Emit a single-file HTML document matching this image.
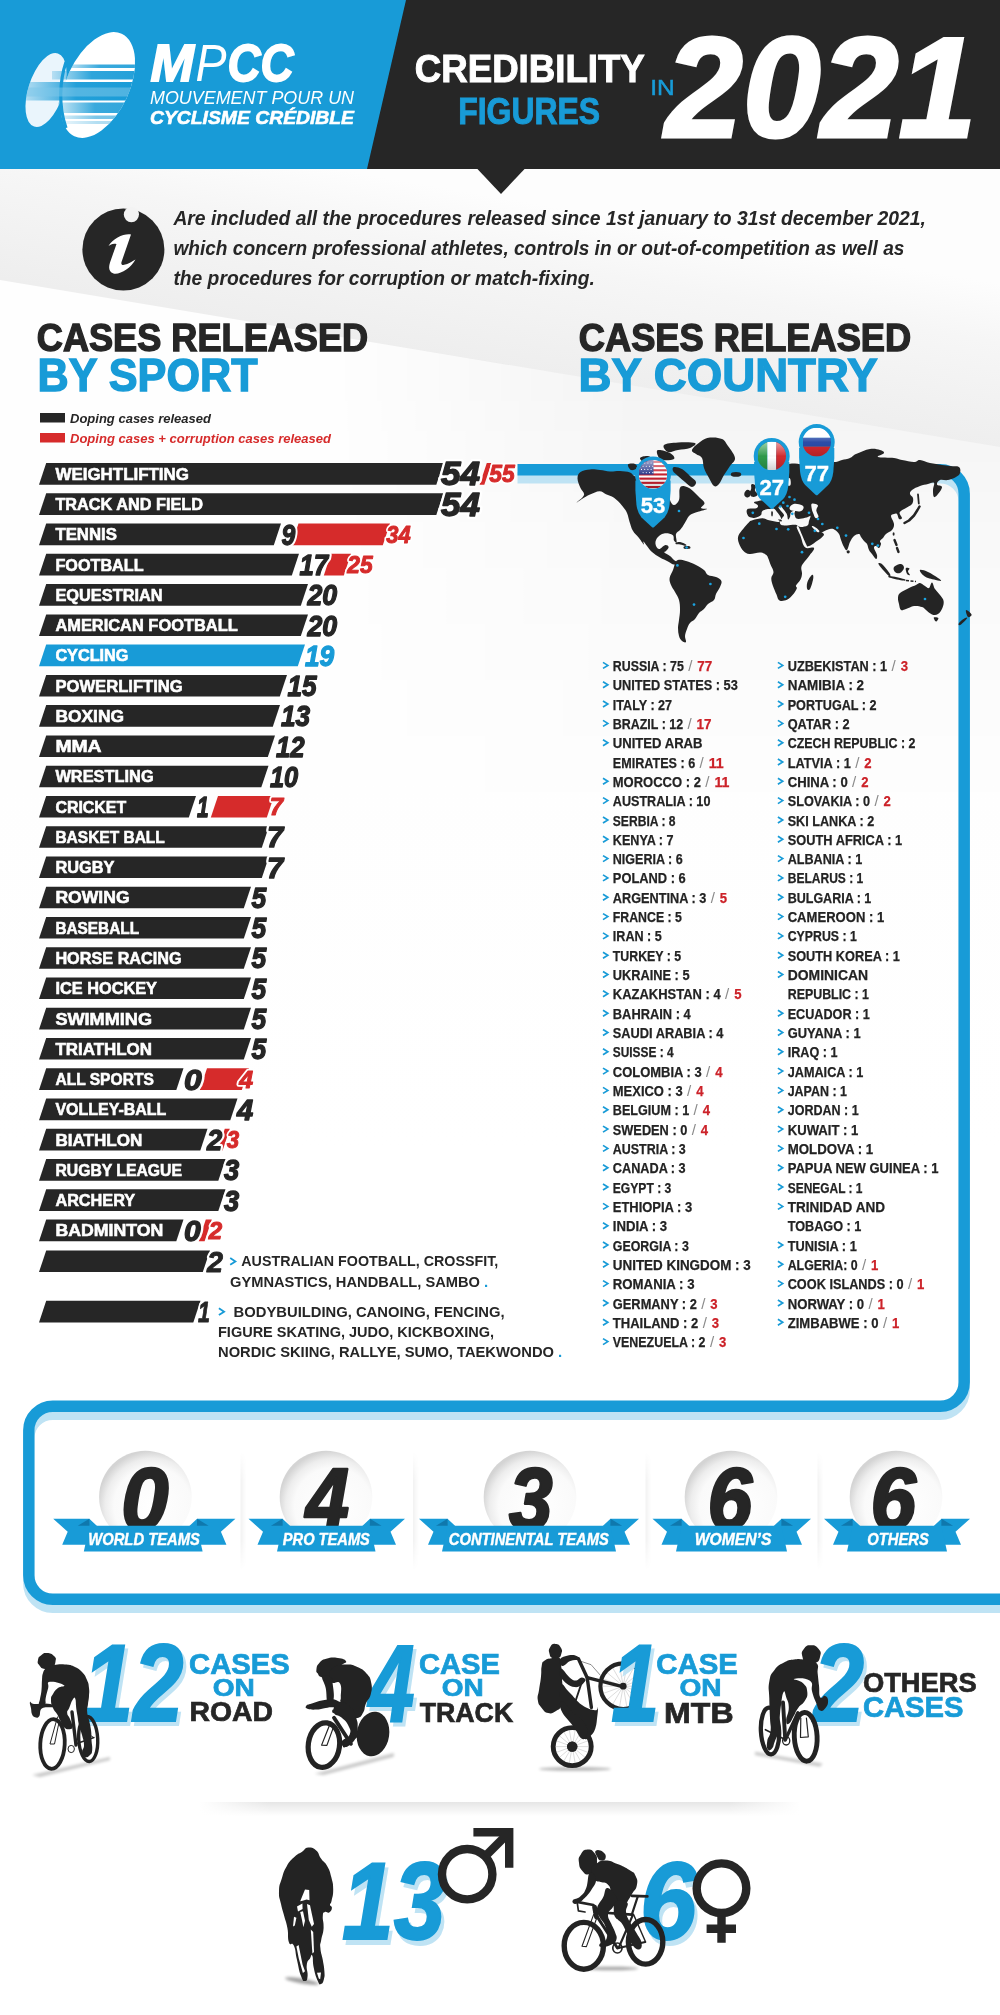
<!DOCTYPE html>
<html lang="en"><head><meta charset="utf-8"><title>MPCC - Credibility figures in 2021</title>
<style>
html,body{margin:0;padding:0;background:#fff;}
body{width:1000px;height:2015px;overflow:hidden;font-family:"Liberation Sans",sans-serif;}
svg{display:block;font-family:"Liberation Sans",sans-serif;will-change:transform;}
svg text{white-space:pre;}
</style></head><body>
<svg width="1000" height="2015" viewBox="0 0 1000 2015">
<defs>
<linearGradient id="bgg" x1="0" y1="0" x2="0" y2="1">
<stop offset="0" stop-color="#fefefe"/><stop offset="0.5" stop-color="#fefefe"/><stop offset="0.8" stop-color="#ffffff"/><stop offset="1" stop-color="#ffffff"/>
</linearGradient>
<linearGradient id="bgtop" gradientUnits="userSpaceOnUse" x1="330" y1="168" x2="290" y2="400"><stop offset="0" stop-color="#fdfdfd"/><stop offset="0.25" stop-color="#f6f6f6"/><stop offset="0.7" stop-color="#eeeeee"/><stop offset="1" stop-color="#ebebeb"/></linearGradient>
<linearGradient id="bgB" gradientUnits="userSpaceOnUse" x1="0" y1="380" x2="0" y2="820"><stop offset="0" stop-color="#000" stop-opacity="0.04"/><stop offset="0.35" stop-color="#000" stop-opacity="0.02"/><stop offset="1" stop-color="#000" stop-opacity="0"/></linearGradient>
<linearGradient id="mBg" gradientUnits="userSpaceOnUse" x1="330" y1="0" x2="640" y2="0"><stop offset="0" stop-color="#000"/><stop offset="1" stop-color="#fff"/></linearGradient>
<mask id="mB" maskUnits="userSpaceOnUse" x="300" y="300" width="700" height="620"><rect x="300" y="300" width="700" height="620" fill="url(#mBg)"/></mask>
<radialGradient id="ball" cx="0.58" cy="0.6" r="0.6">
<stop offset="0" stop-color="#ffffff"/><stop offset="0.7" stop-color="#fafafa"/><stop offset="0.86" stop-color="#ededed"/><stop offset="1" stop-color="#d4d4d4"/>
</radialGradient>
<linearGradient id="sepv" x1="0" y1="0" x2="1" y2="0">
<stop offset="0" stop-color="#000" stop-opacity="0.05"/><stop offset="1" stop-color="#000" stop-opacity="0"/>
</linearGradient>
<linearGradient id="seph" x1="0" y1="0" x2="0" y2="1">
<stop offset="0" stop-color="#000" stop-opacity="0.10"/><stop offset="1" stop-color="#000" stop-opacity="0"/>
</linearGradient>
<linearGradient id="fadex" x1="0" y1="0" x2="1" y2="0">
<stop offset="0" stop-color="#fff" stop-opacity="1"/><stop offset="0.12" stop-color="#fff" stop-opacity="0"/><stop offset="0.88" stop-color="#fff" stop-opacity="0"/><stop offset="1" stop-color="#fff" stop-opacity="1"/>
</linearGradient>
<linearGradient id="stripe" x1="0" y1="0" x2="1" y2="0">
<stop offset="0" stop-color="#189bd7" stop-opacity="0.25"/><stop offset="0.45" stop-color="#189bd7" stop-opacity="0.95"/><stop offset="1" stop-color="#189bd7" stop-opacity="1"/>
</linearGradient>
<clipPath id="logoclip"><ellipse cx="46" cy="90" rx="17.6" ry="38.5" transform="rotate(18 46 90)"/><ellipse cx="98" cy="85" rx="31.5" ry="56.4" transform="rotate(24.8 98 85)"/></clipPath>
</defs>
<rect x="0" y="0" width="1000" height="2015" fill="#ffffff"/>
<rect x="0" y="168" width="1000" height="1230" fill="url(#bgg)"/>
<polygon points="0,168 1000,168 1000,447 0,280" fill="url(#bgtop)"/>
<polygon points="330,335 1000,447 1000,900 330,900" fill="url(#bgB)" mask="url(#mB)"/>
<rect x="0" y="0" width="1000" height="169" fill="#262626"/>
<polygon points="0,0 406,0 367,169 0,169" fill="#189bd7"/>
<polygon points="476.5,168 525.5,168 501,194" fill="#262626"/>
<g>
<ellipse cx="46" cy="90" rx="17.6" ry="38.5" transform="rotate(18 46 90)" fill="#eaf5fc"/>
<ellipse cx="98" cy="85" rx="31.5" ry="56.4" transform="rotate(24.8 98 85)" fill="#ffffff"/>
<path d="M66,62 C60,80 58,105 66,128" fill="none" stroke="#189bd7" stroke-width="3.2"/>
<g clip-path="url(#logoclip)">
<rect x="66" y="64.5" width="74" height="3.5" fill="url(#stripe)" opacity="0.9"/>
<rect x="52" y="71" width="88" height="8.5" fill="url(#stripe)" opacity="0.95"/>
<rect x="24" y="82" width="116" height="18.5" fill="url(#stripe)" opacity="1"/>
<rect x="58" y="102.5" width="82" height="10.5" fill="url(#stripe)" opacity="0.9"/>
<rect x="60" y="115.5" width="80" height="3.5" fill="url(#stripe)" opacity="0.6"/>
<rect x="62" y="121" width="78" height="3.0" fill="url(#stripe)" opacity="0.35"/>
<rect x="24" y="87.5" width="110" height="9" fill="#7cc6ea" opacity="0.55"/>
</g>
</g>
<text x="150.6" y="80.6" font-size="52" fill="#fff" font-weight="bold" font-style="italic" textLength="43.5" lengthAdjust="spacingAndGlyphs" stroke="#fff" stroke-width="1.8">M</text>
<text x="195.5" y="80.6" font-size="52" fill="#fff" font-style="italic" textLength="31.0" lengthAdjust="spacingAndGlyphs">P</text>
<text x="227.5" y="80.6" font-size="52" fill="#fff" font-weight="bold" font-style="italic" textLength="66.0" lengthAdjust="spacingAndGlyphs" stroke="#fff" stroke-width="1.8">CC</text>
<text x="150.0" y="103.5" font-size="18.5" fill="#fff" font-style="italic" textLength="204.0" lengthAdjust="spacingAndGlyphs">MOUVEMENT POUR UN</text>
<text x="150.0" y="124.0" font-size="18.5" fill="#fff" font-weight="bold" font-style="italic" textLength="204.0" lengthAdjust="spacingAndGlyphs" stroke="#fff" stroke-width="0.6">CYCLISME CRÉDIBLE</text>
<text x="414.8" y="81.8" font-size="39.3" fill="#fff" font-weight="bold" textLength="230.0" lengthAdjust="spacingAndGlyphs" stroke="#fff" stroke-width="1">CREDIBILITY</text>
<text x="458.2" y="124.2" font-size="37.8" fill="#189bd7" font-weight="bold" textLength="142.0" lengthAdjust="spacingAndGlyphs" stroke="#189bd7" stroke-width="1">FIGURES</text>
<text x="650.3" y="95.2" font-size="22.5" fill="#189bd7" textLength="24.5" lengthAdjust="spacingAndGlyphs" stroke="#189bd7" stroke-width="0.5">IN</text>
<text x="665.0" y="137.0" font-size="143" fill="#fff" font-weight="bold" font-style="italic" textLength="311.5" lengthAdjust="spacingAndGlyphs" stroke="#fff" stroke-width="3">2021</text>
<circle cx="123.4" cy="249.5" r="41" fill="#262626"/>
<circle cx="131.4" cy="214.6" r="7.6" fill="#f3f3f3"/>
<path d="M108.5,246 C113,238 125,233 131,234.5 L121.5,262 C120.5,266 124,266.5 135.5,259.5 C131,268 120,275 113.5,273.5 C108.5,272 108.5,267 110,262.5 L116.5,244 C113,243 110.5,244.5 108.5,246 Z" fill="#ffffff"/>
<text x="173.4" y="224.5" font-size="19.6" fill="#262626" font-weight="bold" font-style="italic" textLength="752.5" lengthAdjust="spacingAndGlyphs">Are included all the procedures released since 1st january to 31st december 2021,</text>
<text x="173.4" y="254.8" font-size="19.6" fill="#262626" font-weight="bold" font-style="italic" textLength="731.0" lengthAdjust="spacingAndGlyphs">which concern professional athletes, controls in or out-of-competition as well as</text>
<text x="173.4" y="285.2" font-size="19.6" fill="#262626" font-weight="bold" font-style="italic" textLength="421.5" lengthAdjust="spacingAndGlyphs">the procedures for corruption or match-fixing.</text>
<text x="36.8" y="351.0" font-size="38.8" fill="#262626" font-weight="bold" textLength="331.4" lengthAdjust="spacingAndGlyphs" stroke="#262626" stroke-width="1.4">CASES RELEASED</text>
<text x="37.6" y="391.2" font-size="46" fill="#189bd7" font-weight="bold" textLength="220.0" lengthAdjust="spacingAndGlyphs" stroke="#189bd7" stroke-width="1.4">BY SPORT</text>
<text x="578.8" y="351.0" font-size="38.8" fill="#262626" font-weight="bold" textLength="332.4" lengthAdjust="spacingAndGlyphs" stroke="#262626" stroke-width="1.4">CASES RELEASED</text>
<text x="578.6" y="391.2" font-size="46" fill="#189bd7" font-weight="bold" textLength="299.0" lengthAdjust="spacingAndGlyphs" stroke="#189bd7" stroke-width="1.4">BY COUNTRY</text>
<rect x="40" y="413" width="25" height="9.5" fill="#262626"/>
<rect x="40" y="433" width="25" height="9.5" fill="#d62b2b"/>
<text x="70.0" y="422.6" font-size="13.4" fill="#262626" font-weight="bold" font-style="italic" textLength="141.0" lengthAdjust="spacingAndGlyphs">Doping cases released</text>
<text x="70.0" y="442.6" font-size="13.4" fill="#d62b2b" font-weight="bold" font-style="italic" textLength="261.0" lengthAdjust="spacingAndGlyphs">Doping cases + corruption cases released</text>
<polygon points="46.2,463.1 443.5,463.1 436.3,484.7 39.0,484.7" fill="#262626"/>
<polygon points="486.8,463.1 491.5,463.1 484.3,484.7 479.6,484.7" fill="#d62b2b"/>
<text x="55.4" y="479.8" font-size="17.2" fill="#fff" font-weight="bold" textLength="133.6" lengthAdjust="spacingAndGlyphs" stroke="#fff" stroke-width="0.6">WEIGHTLIFTING</text>
<use href="#n1" fill="#ffffff" stroke="#ffffff" stroke-width="6.0"/>
<g fill="#262626" stroke="#262626" stroke-width="1.4"><text id="n1" x="441.0" y="485.2" font-size="33.6" font-weight="bold" font-style="italic" stroke-linejoin="round" textLength="39.0" lengthAdjust="spacingAndGlyphs">54</text></g>
<use href="#n2" fill="#ffffff" stroke="#ffffff" stroke-width="4.4"/>
<g fill="#d62b2b" stroke="#d62b2b" stroke-width="1.0"><text id="n2" x="489.3" y="482.4" font-size="23.6" font-weight="bold" font-style="italic" stroke-linejoin="round" textLength="25.4" lengthAdjust="spacingAndGlyphs">55</text></g>
<polygon points="46.2,493.3 443.5,493.3 436.3,514.9 39.0,514.9" fill="#262626"/>
<text x="55.4" y="510.0" font-size="17.2" fill="#fff" font-weight="bold" textLength="147.6" lengthAdjust="spacingAndGlyphs" stroke="#fff" stroke-width="0.6">TRACK AND FIELD</text>
<use href="#n3" fill="#ffffff" stroke="#ffffff" stroke-width="6.0"/>
<g fill="#262626" stroke="#262626" stroke-width="1.4"><text id="n3" x="441.0" y="515.5" font-size="33.6" font-weight="bold" font-style="italic" stroke-linejoin="round" textLength="39.0" lengthAdjust="spacingAndGlyphs">54</text></g>
<polygon points="46.2,523.6 281.0,523.6 273.8,545.2 39.0,545.2" fill="#262626"/>
<polygon points="298.5,523.6 390.0,523.6 382.8,545.2 291.3,545.2" fill="#d62b2b"/>
<text x="55.4" y="540.3" font-size="17.2" fill="#fff" font-weight="bold" textLength="61.6" lengthAdjust="spacingAndGlyphs" stroke="#fff" stroke-width="0.6">TENNIS</text>
<use href="#n4" fill="#ffffff" stroke="#ffffff" stroke-width="5.7"/>
<g fill="#262626" stroke="#262626" stroke-width="1.3"><text id="n4" x="281.4" y="544.8" font-size="28.8" font-weight="bold" font-style="italic" stroke-linejoin="round" textLength="13.7" lengthAdjust="spacingAndGlyphs">9</text></g>
<use href="#n5" fill="#ffffff" stroke="#ffffff" stroke-width="4.4"/>
<g fill="#d62b2b" stroke="#d62b2b" stroke-width="1.0"><text id="n5" x="386.3" y="542.9" font-size="23.6" font-weight="bold" font-style="italic" stroke-linejoin="round" textLength="24.4" lengthAdjust="spacingAndGlyphs">34</text></g>
<polygon points="46.2,553.8 299.0,553.8 291.8,575.4 39.0,575.4" fill="#262626"/>
<polygon points="331.0,553.8 351.0,553.8 343.8,575.4 323.8,575.4" fill="#d62b2b"/>
<text x="55.4" y="570.5" font-size="17.2" fill="#fff" font-weight="bold" textLength="88.2" lengthAdjust="spacingAndGlyphs" stroke="#fff" stroke-width="0.6">FOOTBALL</text>
<use href="#n6" fill="#ffffff" stroke="#ffffff" stroke-width="5.7"/>
<g fill="#262626" stroke="#262626" stroke-width="1.3"><text id="n6" x="299.4" y="575.0" font-size="28.8" font-weight="bold" font-style="italic" stroke-linejoin="round" textLength="28.7" lengthAdjust="spacingAndGlyphs">17</text></g>
<use href="#n7" fill="#ffffff" stroke="#ffffff" stroke-width="4.4"/>
<g fill="#d62b2b" stroke="#d62b2b" stroke-width="1.0"><text id="n7" x="347.3" y="573.1" font-size="23.6" font-weight="bold" font-style="italic" stroke-linejoin="round" textLength="25.4" lengthAdjust="spacingAndGlyphs">25</text></g>
<polygon points="46.2,584.1 308.0,584.1 300.8,605.7 39.0,605.7" fill="#262626"/>
<text x="55.4" y="600.8" font-size="17.2" fill="#fff" font-weight="bold" textLength="107.3" lengthAdjust="spacingAndGlyphs" stroke="#fff" stroke-width="0.6">EQUESTRIAN</text>
<use href="#n8" fill="#ffffff" stroke="#ffffff" stroke-width="5.7"/>
<g fill="#262626" stroke="#262626" stroke-width="1.3"><text id="n8" x="307.4" y="605.3" font-size="28.8" font-weight="bold" font-style="italic" stroke-linejoin="round" textLength="29.7" lengthAdjust="spacingAndGlyphs">20</text></g>
<polygon points="46.2,614.4 308.0,614.4 300.8,636.0 39.0,636.0" fill="#262626"/>
<text x="55.4" y="631.1" font-size="17.2" fill="#fff" font-weight="bold" textLength="182.3" lengthAdjust="spacingAndGlyphs" stroke="#fff" stroke-width="0.6">AMERICAN FOOTBALL</text>
<use href="#n9" fill="#ffffff" stroke="#ffffff" stroke-width="5.7"/>
<g fill="#262626" stroke="#262626" stroke-width="1.3"><text id="n9" x="307.4" y="635.6" font-size="28.8" font-weight="bold" font-style="italic" stroke-linejoin="round" textLength="29.7" lengthAdjust="spacingAndGlyphs">20</text></g>
<polygon points="46.2,644.6 305.0,644.6 297.8,666.2 39.0,666.2" fill="#189bd7"/>
<text x="55.4" y="661.3" font-size="17.2" fill="#fff" font-weight="bold" textLength="73.1" lengthAdjust="spacingAndGlyphs" stroke="#fff" stroke-width="0.6">CYCLING</text>
<use href="#n10" fill="#ffffff" stroke="#ffffff" stroke-width="5.7"/>
<g fill="#189bd7" stroke="#189bd7" stroke-width="1.3"><text id="n10" x="304.9" y="665.8" font-size="28.8" font-weight="bold" font-style="italic" stroke-linejoin="round" textLength="29.2" lengthAdjust="spacingAndGlyphs">19</text></g>
<polygon points="46.2,674.9 287.0,674.9 279.8,696.5 39.0,696.5" fill="#262626"/>
<text x="55.4" y="691.6" font-size="17.2" fill="#fff" font-weight="bold" textLength="127.4" lengthAdjust="spacingAndGlyphs" stroke="#fff" stroke-width="0.6">POWERLIFTING</text>
<use href="#n11" fill="#ffffff" stroke="#ffffff" stroke-width="5.7"/>
<g fill="#262626" stroke="#262626" stroke-width="1.3"><text id="n11" x="287.4" y="696.1" font-size="28.8" font-weight="bold" font-style="italic" stroke-linejoin="round" textLength="29.2" lengthAdjust="spacingAndGlyphs">15</text></g>
<polygon points="46.2,705.1 280.0,705.1 272.8,726.7 39.0,726.7" fill="#262626"/>
<text x="55.4" y="721.8" font-size="17.2" fill="#fff" font-weight="bold" textLength="68.6" lengthAdjust="spacingAndGlyphs" stroke="#fff" stroke-width="0.6">BOXING</text>
<use href="#n12" fill="#ffffff" stroke="#ffffff" stroke-width="5.7"/>
<g fill="#262626" stroke="#262626" stroke-width="1.3"><text id="n12" x="280.9" y="726.3" font-size="28.8" font-weight="bold" font-style="italic" stroke-linejoin="round" textLength="29.2" lengthAdjust="spacingAndGlyphs">13</text></g>
<polygon points="46.2,735.4 275.0,735.4 267.8,757.0 39.0,757.0" fill="#262626"/>
<text x="55.4" y="752.1" font-size="17.2" fill="#fff" font-weight="bold" textLength="46.2" lengthAdjust="spacingAndGlyphs" stroke="#fff" stroke-width="0.6">MMA</text>
<use href="#n13" fill="#ffffff" stroke="#ffffff" stroke-width="5.7"/>
<g fill="#262626" stroke="#262626" stroke-width="1.3"><text id="n13" x="275.9" y="756.6" font-size="28.8" font-weight="bold" font-style="italic" stroke-linejoin="round" textLength="28.7" lengthAdjust="spacingAndGlyphs">12</text></g>
<polygon points="46.2,765.7 268.5,765.7 261.3,787.3 39.0,787.3" fill="#262626"/>
<text x="55.4" y="782.4" font-size="17.2" fill="#fff" font-weight="bold" textLength="98.3" lengthAdjust="spacingAndGlyphs" stroke="#fff" stroke-width="0.6">WRESTLING</text>
<use href="#n14" fill="#ffffff" stroke="#ffffff" stroke-width="5.7"/>
<g fill="#262626" stroke="#262626" stroke-width="1.3"><text id="n14" x="269.9" y="786.9" font-size="28.8" font-weight="bold" font-style="italic" stroke-linejoin="round" textLength="28.2" lengthAdjust="spacingAndGlyphs">10</text></g>
<polygon points="46.2,795.9 196.0,795.9 188.8,817.5 39.0,817.5" fill="#262626"/>
<polygon points="218.0,795.9 274.0,795.9 266.8,817.5 210.8,817.5" fill="#d62b2b"/>
<text x="55.4" y="812.6" font-size="17.2" fill="#fff" font-weight="bold" textLength="70.8" lengthAdjust="spacingAndGlyphs" stroke="#fff" stroke-width="0.6">CRICKET</text>
<use href="#n15" fill="#ffffff" stroke="#ffffff" stroke-width="5.7"/>
<g fill="#262626" stroke="#262626" stroke-width="1.3"><text id="n15" x="196.9" y="817.1" font-size="28.8" font-weight="bold" font-style="italic" stroke-linejoin="round" textLength="11.7" lengthAdjust="spacingAndGlyphs">1</text></g>
<use href="#n16" fill="#ffffff" stroke="#ffffff" stroke-width="4.4"/>
<g fill="#d62b2b" stroke="#d62b2b" stroke-width="1.0"><text id="n16" x="269.8" y="815.2" font-size="23.6" font-weight="bold" font-style="italic" stroke-linejoin="round" textLength="13.4" lengthAdjust="spacingAndGlyphs">7</text></g>
<polygon points="46.2,826.2 269.0,826.2 261.8,847.8 39.0,847.8" fill="#262626"/>
<text x="55.4" y="842.9" font-size="17.2" fill="#fff" font-weight="bold" textLength="109.4" lengthAdjust="spacingAndGlyphs" stroke="#fff" stroke-width="0.6">BASKET BALL</text>
<use href="#n17" fill="#ffffff" stroke="#ffffff" stroke-width="5.7"/>
<g fill="#262626" stroke="#262626" stroke-width="1.3"><text id="n17" x="266.9" y="847.4" font-size="28.8" font-weight="bold" font-style="italic" stroke-linejoin="round" textLength="16.2" lengthAdjust="spacingAndGlyphs">7</text></g>
<polygon points="46.2,856.5 269.0,856.5 261.8,878.1 39.0,878.1" fill="#262626"/>
<text x="55.4" y="873.2" font-size="17.2" fill="#fff" font-weight="bold" textLength="59.1" lengthAdjust="spacingAndGlyphs" stroke="#fff" stroke-width="0.6">RUGBY</text>
<use href="#n18" fill="#ffffff" stroke="#ffffff" stroke-width="5.7"/>
<g fill="#262626" stroke="#262626" stroke-width="1.3"><text id="n18" x="266.9" y="877.7" font-size="28.8" font-weight="bold" font-style="italic" stroke-linejoin="round" textLength="16.2" lengthAdjust="spacingAndGlyphs">7</text></g>
<polygon points="46.2,886.7 251.0,886.7 243.8,908.3 39.0,908.3" fill="#262626"/>
<text x="55.4" y="903.4" font-size="17.2" fill="#fff" font-weight="bold" textLength="74.2" lengthAdjust="spacingAndGlyphs" stroke="#fff" stroke-width="0.6">ROWING</text>
<use href="#n19" fill="#ffffff" stroke="#ffffff" stroke-width="5.7"/>
<g fill="#262626" stroke="#262626" stroke-width="1.3"><text id="n19" x="251.4" y="907.9" font-size="28.8" font-weight="bold" font-style="italic" stroke-linejoin="round" textLength="14.7" lengthAdjust="spacingAndGlyphs">5</text></g>
<polygon points="46.2,917.0 251.0,917.0 243.8,938.6 39.0,938.6" fill="#262626"/>
<text x="55.4" y="933.7" font-size="17.2" fill="#fff" font-weight="bold" textLength="83.7" lengthAdjust="spacingAndGlyphs" stroke="#fff" stroke-width="0.6">BASEBALL</text>
<use href="#n20" fill="#ffffff" stroke="#ffffff" stroke-width="5.7"/>
<g fill="#262626" stroke="#262626" stroke-width="1.3"><text id="n20" x="251.4" y="938.2" font-size="28.8" font-weight="bold" font-style="italic" stroke-linejoin="round" textLength="14.7" lengthAdjust="spacingAndGlyphs">5</text></g>
<polygon points="46.2,947.2 251.0,947.2 243.8,968.8 39.0,968.8" fill="#262626"/>
<text x="55.4" y="963.9" font-size="17.2" fill="#fff" font-weight="bold" textLength="126.3" lengthAdjust="spacingAndGlyphs" stroke="#fff" stroke-width="0.6">HORSE RACING</text>
<use href="#n21" fill="#ffffff" stroke="#ffffff" stroke-width="5.7"/>
<g fill="#262626" stroke="#262626" stroke-width="1.3"><text id="n21" x="251.4" y="968.4" font-size="28.8" font-weight="bold" font-style="italic" stroke-linejoin="round" textLength="14.7" lengthAdjust="spacingAndGlyphs">5</text></g>
<polygon points="46.2,977.5 251.0,977.5 243.8,999.1 39.0,999.1" fill="#262626"/>
<text x="55.4" y="994.2" font-size="17.2" fill="#fff" font-weight="bold" textLength="101.6" lengthAdjust="spacingAndGlyphs" stroke="#fff" stroke-width="0.6">ICE HOCKEY</text>
<use href="#n22" fill="#ffffff" stroke="#ffffff" stroke-width="5.7"/>
<g fill="#262626" stroke="#262626" stroke-width="1.3"><text id="n22" x="251.4" y="998.7" font-size="28.8" font-weight="bold" font-style="italic" stroke-linejoin="round" textLength="14.7" lengthAdjust="spacingAndGlyphs">5</text></g>
<polygon points="46.2,1007.8 251.0,1007.8 243.8,1029.4 39.0,1029.4" fill="#262626"/>
<text x="55.4" y="1024.5" font-size="17.2" fill="#fff" font-weight="bold" textLength="96.6" lengthAdjust="spacingAndGlyphs" stroke="#fff" stroke-width="0.6">SWIMMING</text>
<use href="#n23" fill="#ffffff" stroke="#ffffff" stroke-width="5.7"/>
<g fill="#262626" stroke="#262626" stroke-width="1.3"><text id="n23" x="251.4" y="1029.0" font-size="28.8" font-weight="bold" font-style="italic" stroke-linejoin="round" textLength="14.7" lengthAdjust="spacingAndGlyphs">5</text></g>
<polygon points="46.2,1038.0 251.0,1038.0 243.8,1059.6 39.0,1059.6" fill="#262626"/>
<text x="55.4" y="1054.7" font-size="17.2" fill="#fff" font-weight="bold" textLength="96.6" lengthAdjust="spacingAndGlyphs" stroke="#fff" stroke-width="0.6">TRIATHLON</text>
<use href="#n24" fill="#ffffff" stroke="#ffffff" stroke-width="5.7"/>
<g fill="#262626" stroke="#262626" stroke-width="1.3"><text id="n24" x="251.4" y="1059.2" font-size="28.8" font-weight="bold" font-style="italic" stroke-linejoin="round" textLength="14.7" lengthAdjust="spacingAndGlyphs">5</text></g>
<polygon points="46.2,1068.3 183.5,1068.3 176.3,1089.9 39.0,1089.9" fill="#262626"/>
<polygon points="207.0,1068.3 249.0,1068.3 241.8,1089.9 199.8,1089.9" fill="#d62b2b"/>
<text x="55.4" y="1085.0" font-size="17.2" fill="#fff" font-weight="bold" textLength="98.4" lengthAdjust="spacingAndGlyphs" stroke="#fff" stroke-width="0.6">ALL SPORTS</text>
<use href="#n25" fill="#ffffff" stroke="#ffffff" stroke-width="5.7"/>
<g fill="#262626" stroke="#262626" stroke-width="1.3"><text id="n25" x="183.9" y="1089.5" font-size="28.8" font-weight="bold" font-style="italic" stroke-linejoin="round" textLength="17.7" lengthAdjust="spacingAndGlyphs">0</text></g>
<use href="#n26" fill="#ffffff" stroke="#ffffff" stroke-width="4.4"/>
<g fill="#d62b2b" stroke="#d62b2b" stroke-width="1.0"><text id="n26" x="239.3" y="1087.6" font-size="23.6" font-weight="bold" font-style="italic" stroke-linejoin="round" textLength="13.9" lengthAdjust="spacingAndGlyphs">4</text></g>
<polygon points="46.2,1098.6 237.5,1098.6 230.3,1120.2 39.0,1120.2" fill="#262626"/>
<text x="55.4" y="1115.3" font-size="17.2" fill="#fff" font-weight="bold" textLength="111.0" lengthAdjust="spacingAndGlyphs" stroke="#fff" stroke-width="0.6">VOLLEY-BALL</text>
<use href="#n27" fill="#ffffff" stroke="#ffffff" stroke-width="5.7"/>
<g fill="#262626" stroke="#262626" stroke-width="1.3"><text id="n27" x="236.9" y="1119.8" font-size="28.8" font-weight="bold" font-style="italic" stroke-linejoin="round" textLength="16.2" lengthAdjust="spacingAndGlyphs">4</text></g>
<polygon points="46.2,1128.8 207.5,1128.8 200.3,1150.4 39.0,1150.4" fill="#262626"/>
<polygon points="224.8,1128.8 229.8,1128.8 222.6,1150.4 217.6,1150.4" fill="#d62b2b"/>
<text x="55.4" y="1145.5" font-size="17.2" fill="#fff" font-weight="bold" textLength="87.0" lengthAdjust="spacingAndGlyphs" stroke="#fff" stroke-width="0.6">BIATHLON</text>
<use href="#n28" fill="#ffffff" stroke="#ffffff" stroke-width="5.7"/>
<g fill="#262626" stroke="#262626" stroke-width="1.3"><text id="n28" x="206.9" y="1150.0" font-size="28.8" font-weight="bold" font-style="italic" stroke-linejoin="round" textLength="15.2" lengthAdjust="spacingAndGlyphs">2</text></g>
<use href="#n29" fill="#ffffff" stroke="#ffffff" stroke-width="4.4"/>
<g fill="#d62b2b" stroke="#d62b2b" stroke-width="1.0"><text id="n29" x="226.8" y="1148.1" font-size="23.6" font-weight="bold" font-style="italic" stroke-linejoin="round" textLength="12.4" lengthAdjust="spacingAndGlyphs">3</text></g>
<polygon points="46.2,1159.1 225.5,1159.1 218.3,1180.7 39.0,1180.7" fill="#262626"/>
<text x="55.4" y="1175.8" font-size="17.2" fill="#fff" font-weight="bold" textLength="126.6" lengthAdjust="spacingAndGlyphs" stroke="#fff" stroke-width="0.6">RUGBY LEAGUE</text>
<use href="#n30" fill="#ffffff" stroke="#ffffff" stroke-width="5.7"/>
<g fill="#262626" stroke="#262626" stroke-width="1.3"><text id="n30" x="223.9" y="1180.3" font-size="28.8" font-weight="bold" font-style="italic" stroke-linejoin="round" textLength="15.2" lengthAdjust="spacingAndGlyphs">3</text></g>
<polygon points="46.2,1189.3 225.5,1189.3 218.3,1210.9 39.0,1210.9" fill="#262626"/>
<text x="55.4" y="1206.0" font-size="17.2" fill="#fff" font-weight="bold" textLength="79.8" lengthAdjust="spacingAndGlyphs" stroke="#fff" stroke-width="0.6">ARCHERY</text>
<use href="#n31" fill="#ffffff" stroke="#ffffff" stroke-width="5.7"/>
<g fill="#262626" stroke="#262626" stroke-width="1.3"><text id="n31" x="223.9" y="1210.5" font-size="28.8" font-weight="bold" font-style="italic" stroke-linejoin="round" textLength="15.2" lengthAdjust="spacingAndGlyphs">3</text></g>
<polygon points="46.2,1219.6 183.5,1219.6 176.3,1241.2 39.0,1241.2" fill="#262626"/>
<polygon points="205.8,1219.6 211.8,1219.6 204.6,1241.2 198.6,1241.2" fill="#d62b2b"/>
<text x="55.4" y="1236.3" font-size="17.2" fill="#fff" font-weight="bold" textLength="108.0" lengthAdjust="spacingAndGlyphs" stroke="#fff" stroke-width="0.6">BADMINTON</text>
<use href="#n32" fill="#ffffff" stroke="#ffffff" stroke-width="5.7"/>
<g fill="#262626" stroke="#262626" stroke-width="1.3"><text id="n32" x="183.9" y="1240.8" font-size="28.8" font-weight="bold" font-style="italic" stroke-linejoin="round" textLength="16.7" lengthAdjust="spacingAndGlyphs">0</text></g>
<use href="#n33" fill="#ffffff" stroke="#ffffff" stroke-width="4.4"/>
<g fill="#d62b2b" stroke="#d62b2b" stroke-width="1.0"><text id="n33" x="208.8" y="1238.9" font-size="23.6" font-weight="bold" font-style="italic" stroke-linejoin="round" textLength="13.4" lengthAdjust="spacingAndGlyphs">2</text></g>
<polygon points="46.2,1250.4 210.0,1250.4 202.8,1272.0 39.0,1272.0" fill="#262626"/>
<use href="#n34" fill="#ffffff" stroke="#ffffff" stroke-width="5.4"/>
<g fill="#262626" stroke="#262626" stroke-width="0.9"><text id="n34" x="207.0" y="1271.8" font-size="30" font-weight="bold" font-style="italic" stroke-linejoin="round" textLength="16.0" lengthAdjust="spacingAndGlyphs">2</text></g>
<polygon points="46.2,1300.8 200.5,1300.8 193.3,1322.4 39.0,1322.4" fill="#262626"/>
<use href="#n35" fill="#ffffff" stroke="#ffffff" stroke-width="5.4"/>
<g fill="#262626" stroke="#262626" stroke-width="0.9"><text id="n35" x="198.0" y="1322.2" font-size="30" font-weight="bold" font-style="italic" stroke-linejoin="round" textLength="12.0" lengthAdjust="spacingAndGlyphs">1</text></g>
<path d="M230.2,1258 L235.4,1261.4 L230.2,1264.8" fill="none" stroke="#189bd7" stroke-width="1.8"/>
<text x="241.3" y="1266.3" font-size="15" fill="#262626" font-weight="bold" textLength="257.0" lengthAdjust="spacingAndGlyphs">AUSTRALIAN FOOTBALL, CROSSFIT,</text>
<text x="230.0" y="1286.7" font-size="15" fill="#262626" font-weight="bold" textLength="250.0" lengthAdjust="spacingAndGlyphs">GYMNASTICS, HANDBALL, SAMBO</text>
<text x="484.0" y="1286.7" font-size="15" fill="#189bd7" font-weight="bold">.</text>
<path d="M218.9,1308.3 L224.1,1311.7 L218.9,1315.1" fill="none" stroke="#189bd7" stroke-width="1.8"/>
<text x="233.6" y="1316.6" font-size="15" fill="#262626" font-weight="bold" textLength="271.0" lengthAdjust="spacingAndGlyphs">BODYBUILDING, CANOING, FENCING,</text>
<text x="218.0" y="1336.6" font-size="15" fill="#262626" font-weight="bold" textLength="276.0" lengthAdjust="spacingAndGlyphs">FIGURE SKATING, JUDO, KICKBOXING,</text>
<text x="218.0" y="1356.6" font-size="15" fill="#262626" font-weight="bold" textLength="336.0" lengthAdjust="spacingAndGlyphs">NORDIC SKIING, RALLYE, SUMO, TAEKWONDO</text>
<text x="558.0" y="1356.6" font-size="15" fill="#189bd7" font-weight="bold">.</text>
<path d="M517.5,477.7 H940.2 A24,24 0 0 1 964.2,501.7 V1390.2 A24,24 0 0 1 940.2,1414.2 H52.8 A24,24 0 0 0 28.8,1438.2 V1583.2 A24,24 0 0 0 52.8,1607.2 H1001" fill="none" stroke="#bfe3f4" stroke-width="11.4"/>
<path d="M517.5,469.7 H940.2 A24,24 0 0 1 964.2,493.7 V1382.2 A24,24 0 0 1 940.2,1406.2 H52.8 A24,24 0 0 0 28.8,1430.2 V1575.2 A24,24 0 0 0 52.8,1599.2 H1001" fill="none" stroke="#189bd7" stroke-width="11.4"/>
<g stroke-linejoin="round">
<path d="M577.5,478.5 C577.5,475.6 578.2,473.7 580.5,472.0 C582.8,470.3 586.4,469.8 590.0,469.4 C593.6,469.0 596.3,469.6 600.0,470.0 C603.7,470.4 606.3,471.2 610.0,471.4 C613.7,471.6 616.3,470.8 620.0,471.0 C623.7,471.2 627.1,471.4 630.0,472.4 C632.9,473.4 632.3,475.7 636.0,476.5 C639.7,477.3 645.6,477.1 650.0,477.0 C654.4,476.9 656.4,475.4 660.0,476.0 C663.6,476.6 667.8,477.6 669.4,480.0 C671.0,482.4 668.9,485.3 669.0,489.0 C669.1,492.7 669.1,497.1 670.0,500.0 C670.9,502.9 672.4,505.0 674.0,505.0 C675.6,505.0 678.0,502.9 679.0,500.0 C680.0,497.1 678.9,491.6 679.6,489.0 C680.3,486.4 681.3,486.2 683.0,486.0 C684.7,485.8 687.0,486.9 689.0,488.0 C691.0,489.1 692.0,490.2 694.0,492.0 C696.0,493.8 698.1,496.0 700.0,498.0 C701.9,500.0 704.3,501.2 704.5,503.0 C704.7,504.8 700.5,506.9 701.0,508.0 C701.5,509.1 707.4,508.4 707.0,509.0 C706.6,509.6 701.6,510.7 699.0,511.5 C696.4,512.3 694.8,512.7 693.0,513.5 C691.2,514.3 690.2,514.8 689.0,516.0 C687.8,517.2 687.6,518.2 686.5,520.0 C685.4,521.8 684.2,524.2 683.0,526.0 C681.8,527.8 681.3,528.5 680.0,530.0 C678.7,531.5 676.6,531.8 676.0,534.0 C675.4,536.2 677.0,540.8 676.6,542.0 C676.2,543.2 674.7,541.8 674.0,540.5 C673.3,539.2 674.4,536.3 672.6,535.0 C670.8,533.7 666.8,533.0 664.0,533.5 C661.2,534.0 659.1,535.6 657.5,537.5 C655.9,539.4 655.2,541.9 655.5,544.0 C655.8,546.1 657.3,548.8 659.0,549.0 C660.7,549.2 663.2,545.6 665.0,545.2 C666.8,544.8 668.4,545.9 668.6,547.0 C668.8,548.1 666.8,550.0 666.0,551.0 C665.2,552.0 663.7,551.5 664.4,552.4 C665.1,553.3 668.2,554.6 670.0,556.0 C671.8,557.4 672.4,558.7 674.0,560.0 C675.6,561.3 679.0,562.2 679.0,563.0 C679.0,563.8 676.0,564.9 674.0,564.6 C672.0,564.3 670.6,562.7 668.0,561.4 C665.4,560.1 662.9,559.3 660.0,557.6 C657.1,555.9 654.4,554.1 652.0,552.0 C649.6,549.9 648.6,547.9 647.0,546.0 C645.4,544.1 644.0,541.9 643.4,541.6 C642.8,541.3 644.7,545.2 643.8,544.5 C642.9,543.8 640.6,540.1 638.6,537.6 C636.6,535.1 634.5,533.7 632.9,530.8 C631.2,527.9 630.7,525.3 629.6,522.0 C628.5,518.7 628.4,516.0 627.0,513.0 C625.6,510.0 624.3,508.2 621.9,505.4 C619.5,502.6 616.9,499.9 614.0,497.8 C611.1,495.7 608.7,495.4 606.0,494.2 C603.3,493.0 602.4,491.1 599.5,491.2 C596.6,491.3 593.2,493.1 590.0,494.5 C586.8,495.9 584.5,497.5 582.0,499.0 C579.5,500.5 576.1,503.3 576.5,502.6 C576.9,501.9 583.3,497.7 584.0,495.0 C584.7,492.3 581.7,491.0 580.5,488.0 C579.3,485.0 577.5,481.4 577.5,478.5 Z" fill="#242424" />
<path d="M664.0,445.0 C665.8,443.2 672.3,442.8 678.0,442.4 C683.7,442.0 692.8,442.0 695.0,443.0 C697.2,444.0 693.1,446.7 690.0,448.0 C686.9,449.3 682.0,449.3 678.0,450.0 C674.0,450.7 670.6,452.9 668.0,452.0 C665.4,451.1 662.2,446.8 664.0,445.0 Z" fill="#242424" />
<path d="M658.0,450.0 C660.2,449.4 667.1,451.4 670.0,453.0 C672.9,454.6 675.5,457.7 674.0,459.0 C672.5,460.3 664.9,460.6 662.0,460.0 C659.1,459.4 658.7,457.8 658.0,456.0 C657.3,454.2 655.8,450.6 658.0,450.0 Z" fill="#242424" />
<path d="M674.0,467.0 C675.6,466.6 679.1,467.4 682.0,469.0 C684.9,470.6 687.4,473.6 690.0,476.0 C692.6,478.4 695.6,480.0 696.0,482.0 C696.4,484.0 694.0,487.0 692.0,487.0 C690.0,487.0 687.6,484.0 685.0,482.0 C682.4,480.0 680.2,478.0 678.0,476.0 C675.8,474.0 673.7,472.6 673.0,471.0 C672.3,469.4 672.4,467.4 674.0,467.0 Z" fill="#242424" />
<path d="M628.0,464.5 C628.7,463.4 633.4,463.4 635.0,464.0 C636.6,464.6 637.7,466.9 637.0,468.0 C636.3,469.1 632.6,470.6 631.0,470.0 C629.4,469.4 627.3,465.6 628.0,464.5 Z" fill="#242424" />
<path d="M640.0,458.0 C640.5,456.7 645.8,455.6 648.0,456.0 C650.2,456.4 652.5,458.7 652.0,460.0 C651.5,461.3 647.2,463.4 645.0,463.0 C642.8,462.6 639.5,459.3 640.0,458.0 Z" fill="#242424" />
<path d="M692.0,450.0 C692.7,447.8 696.7,444.3 700.0,442.0 C703.3,439.7 706.0,438.2 710.0,437.6 C714.0,437.1 718.7,437.5 722.0,439.0 C725.3,440.5 725.6,442.5 728.0,446.0 C730.4,449.5 734.6,454.3 735.0,458.0 C735.4,461.7 732.0,462.9 730.0,466.0 C728.0,469.1 726.0,471.7 724.0,475.0 C722.0,478.3 720.8,482.0 719.0,484.0 C717.2,486.0 715.8,487.1 714.0,486.0 C712.2,484.9 710.8,481.3 709.0,478.0 C707.2,474.7 705.3,471.7 704.0,468.0 C702.7,464.3 703.5,460.6 702.0,458.0 C700.5,455.4 697.8,455.5 696.0,454.0 C694.2,452.5 691.3,452.2 692.0,450.0 Z" fill="#242424" />
<ellipse cx="736" cy="474.4" rx="5.2" ry="2.3" fill="#242424"/>
<path d="M676.0,542.6 C676.9,542.2 679.2,541.8 681.0,542.2 C682.8,542.6 685.2,543.9 686.0,544.6 C686.8,545.3 686.7,545.8 685.6,545.8 C684.5,545.8 681.8,544.7 680.0,544.4 C678.2,544.1 676.7,544.5 676.0,544.2 C675.3,543.9 675.1,543.0 676.0,542.6 Z" fill="#242424" />
<path d="M684.0,546.4 C684.9,545.9 688.4,545.8 689.5,546.2 C690.6,546.6 690.9,548.1 690.0,548.6 C689.1,549.1 685.6,549.2 684.5,548.8 C683.4,548.4 683.1,546.9 684.0,546.4 Z" fill="#242424" />
<path d="M678.0,560.0 C680.0,559.5 682.7,560.1 686.0,561.0 C689.3,561.9 692.7,563.4 696.0,565.0 C699.3,566.6 701.8,568.2 704.0,570.0 C706.2,571.8 705.8,573.7 708.0,575.0 C710.2,576.3 713.5,575.9 716.0,577.0 C718.5,578.1 720.7,579.2 721.4,581.0 C722.1,582.8 721.0,584.6 720.0,587.0 C719.0,589.4 717.1,591.6 716.0,594.0 C714.9,596.4 715.5,598.2 714.0,600.0 C712.5,601.8 709.8,602.4 708.0,604.0 C706.2,605.6 705.6,607.4 704.0,609.0 C702.4,610.6 700.6,611.2 699.0,613.0 C697.4,614.8 696.6,617.2 695.0,619.0 C693.4,620.8 691.5,621.2 690.0,623.0 C688.5,624.8 687.9,626.6 687.0,629.0 C686.1,631.4 685.2,633.6 685.0,636.0 C684.8,638.4 686.5,641.1 686.0,642.0 C685.5,642.9 683.3,642.1 682.0,641.0 C680.7,639.9 679.7,638.4 679.0,636.0 C678.3,633.6 678.0,630.9 678.0,628.0 C678.0,625.1 678.6,623.3 679.0,620.0 C679.4,616.7 680.0,613.7 680.0,610.0 C680.0,606.3 679.9,603.3 679.0,600.0 C678.1,596.7 676.5,594.8 675.0,592.0 C673.5,589.2 672.0,587.6 671.0,585.0 C670.0,582.4 669.2,580.8 669.6,578.0 C670.0,575.2 672.0,572.6 673.0,570.0 C674.0,567.4 674.1,565.8 675.0,564.0 C675.9,562.2 676.0,560.5 678.0,560.0 Z" fill="#242424" />
<path d="M752.5,520.3 C755.0,519.5 759.3,518.3 762.3,518.3 C765.3,518.3 766.1,519.6 769.0,520.3 C771.9,521.0 776.1,521.9 778.0,522.0 C779.9,522.1 779.0,520.5 779.5,521.0 C780.0,521.5 779.6,524.0 781.0,524.8 C782.4,525.6 784.5,525.5 787.0,525.5 C789.5,525.5 792.6,524.7 794.5,524.8 C796.4,524.9 797.1,525.2 797.5,525.8 C797.9,526.3 796.2,525.9 796.8,527.8 C797.3,529.7 799.0,532.4 800.5,536.0 C802.0,539.6 802.5,545.1 805.0,547.3 C807.5,549.5 813.2,546.5 814.0,548.0 C814.8,549.5 811.4,552.8 809.5,555.5 C807.6,558.2 805.0,560.8 803.5,563.0 C802.0,565.2 801.6,565.6 801.3,567.5 C801.0,569.4 802.1,571.3 802.0,573.5 C801.9,575.7 801.6,577.3 800.5,579.5 C799.4,581.7 796.7,583.9 796.0,585.5 C795.3,587.1 797.3,586.9 796.8,588.5 C796.2,590.1 794.8,592.4 793.0,594.5 C791.2,596.6 789.5,598.7 787.0,599.8 C784.5,600.9 781.4,601.5 779.5,600.5 C777.6,599.5 777.7,597.2 776.5,594.5 C775.3,591.8 773.8,588.5 772.8,585.5 C771.8,582.5 771.2,580.5 771.3,578.0 C771.4,575.5 773.6,574.5 773.5,572.0 C773.4,569.5 771.5,567.0 770.5,564.5 C769.5,562.0 769.1,560.3 768.3,558.5 C767.5,556.7 767.5,555.9 766.0,554.8 C764.5,553.7 763.0,552.6 760.0,552.5 C757.0,552.4 752.5,554.3 749.5,554.0 C746.5,553.7 745.4,552.9 743.5,551.0 C741.6,549.1 740.0,546.2 739.0,543.5 C738.0,540.8 737.5,538.8 738.3,536.0 C739.1,533.2 741.6,531.0 743.5,528.5 C745.4,526.0 747.1,524.0 748.8,522.5 C750.4,521.0 750.0,521.1 752.5,520.3 Z" fill="#242424" />
<path d="M811.8,575.0 C812.9,574.2 813.6,575.5 813.3,578.0 C813.0,580.5 811.4,586.4 810.3,588.5 C809.2,590.6 807.8,590.4 807.3,589.3 C806.8,588.2 806.5,585.1 807.3,582.5 C808.1,579.9 810.7,575.8 811.8,575.0 Z" fill="#242424" />
<path d="M751.6,484.2 C752.8,483.5 754.9,484.5 755.8,486.2 C756.7,487.9 754.5,488.2 755.0,490.4 C755.5,492.6 758.5,492.9 757.8,494.6 C757.1,496.3 754.3,497.3 752.2,496.8 C750.1,496.3 750.3,494.9 750.0,492.8 C749.7,490.7 750.8,491.1 751.2,488.8 C751.6,486.5 750.4,484.9 751.6,484.2 Z" fill="#242424" />
<path d="M745.4,491.2 C746.8,489.5 748.4,489.4 749.8,490.8 C751.2,492.2 751.4,494.3 750.0,496.0 C748.6,497.7 746.6,498.0 745.2,496.6 C743.8,495.2 744.0,492.9 745.4,491.2 Z" fill="#242424" />
<path d="M778.0,519.6 C778.1,519.3 781.1,519.5 781.6,519.9 C782.1,520.3 781.7,521.7 781.0,521.6 C780.3,521.5 777.9,519.9 778.0,519.6 Z" fill="#242424" />
<path d="M771.4,511.6 C771.7,510.9 772.6,511.0 772.8,511.8 C773.0,512.6 772.9,515.3 772.6,516.0 C772.3,516.7 771.6,516.6 771.4,515.8 C771.2,515.0 771.1,512.3 771.4,511.6 Z" fill="#242424" />
<path d="M747.3,509.3 C748.8,507.9 754.4,509.0 756.3,508.3 C758.2,507.6 758.2,506.4 757.8,505.3 C757.4,504.2 753.7,503.1 754.0,502.3 C754.3,501.5 757.4,501.5 759.3,500.8 C761.2,500.1 762.9,500.5 764.5,498.5 C766.1,496.5 767.7,492.7 768.0,490.0 C768.3,487.3 765.3,486.9 766.0,484.0 C766.7,481.1 769.1,477.3 772.0,474.0 C774.9,470.7 777.8,467.9 782.0,466.0 C786.2,464.1 791.1,463.5 795.0,463.5 C798.9,463.5 801.0,464.8 803.0,466.0 C805.0,467.2 804.7,469.6 806.0,470.0 C807.3,470.4 808.4,469.1 810.0,468.0 C811.6,466.9 812.2,465.1 815.0,464.0 C817.8,462.9 821.1,462.4 825.0,462.0 C828.9,461.6 832.9,462.4 836.0,462.0 C839.1,461.6 839.4,460.7 842.0,460.0 C844.6,459.3 847.4,459.1 850.0,458.0 C852.6,456.9 852.3,455.6 856.0,454.0 C859.7,452.4 865.6,449.7 870.0,449.0 C874.4,448.3 877.4,449.3 880.0,450.0 C882.6,450.7 884.4,451.7 884.0,453.0 C883.6,454.3 876.2,456.1 878.0,457.0 C879.8,457.9 889.6,457.4 894.0,458.0 C898.4,458.6 898.3,459.3 902.0,460.0 C905.7,460.7 910.7,462.0 914.0,462.0 C917.3,462.0 917.1,459.8 920.0,460.0 C922.9,460.2 926.0,462.1 930.0,463.0 C934.0,463.9 938.3,464.4 942.0,465.0 C945.7,465.6 946.9,465.6 950.0,466.0 C953.1,466.4 957.2,465.7 959.0,467.0 C960.8,468.3 960.5,471.2 960.0,473.0 C959.5,474.8 958.2,475.7 956.0,477.0 C953.8,478.3 950.9,479.4 948.0,480.0 C945.1,480.6 942.0,479.2 940.0,480.0 C938.0,480.8 936.6,483.1 937.0,484.4 C937.4,485.7 941.8,485.2 942.0,487.0 C942.2,488.8 939.5,492.2 938.0,494.0 C936.5,495.8 934.9,497.7 934.0,497.0 C933.1,496.3 933.0,492.6 933.0,490.0 C933.0,487.4 934.9,484.1 934.0,483.0 C933.1,481.9 930.6,483.4 928.0,484.0 C925.4,484.6 922.9,484.9 920.0,486.0 C917.1,487.1 913.8,488.5 912.0,490.0 C910.2,491.5 909.8,492.5 910.0,494.0 C910.2,495.5 912.6,496.2 913.0,498.0 C913.4,499.8 913.3,502.2 912.0,504.0 C910.7,505.8 908.3,506.5 906.0,508.0 C903.7,509.5 900.3,510.6 899.6,512.4 C898.9,514.2 902.1,516.8 902.0,518.0 C901.9,519.2 899.9,519.7 899.0,519.0 C898.1,518.3 897.9,514.9 897.0,514.0 C896.1,513.1 895.1,513.6 894.0,514.0 C892.9,514.4 891.0,514.2 891.0,516.0 C891.0,517.8 893.8,521.4 894.0,524.0 C894.2,526.6 893.5,528.2 892.0,530.0 C890.5,531.8 887.6,532.5 886.0,534.0 C884.4,535.5 884.1,536.7 883.0,538.0 C881.9,539.3 880.4,539.9 880.0,541.0 C879.6,542.1 881.2,542.7 881.0,544.0 C880.8,545.3 879.9,547.6 879.0,548.0 C878.1,548.4 876.9,546.0 876.0,546.0 C875.1,546.0 873.8,546.4 874.0,548.0 C874.2,549.6 876.6,553.0 877.0,555.0 C877.4,557.0 876.9,559.2 876.0,559.0 C875.1,558.8 873.3,555.6 872.0,554.0 C870.7,552.4 869.9,551.8 869.0,550.0 C868.1,548.2 867.9,545.6 867.0,544.0 C866.1,542.4 865.1,542.3 864.0,541.0 C862.9,539.7 861.9,538.3 861.0,537.0 C860.1,535.7 860.3,534.2 859.0,534.0 C857.7,533.8 855.6,534.5 854.0,536.0 C852.4,537.5 851.3,539.4 850.0,542.0 C848.7,544.6 848.1,549.1 847.0,550.0 C845.9,550.9 845.1,548.8 844.0,547.0 C842.9,545.2 841.9,542.4 841.0,540.0 C840.1,537.6 840.1,535.8 839.0,534.0 C837.9,532.2 836.6,530.9 835.0,530.0 C833.4,529.1 832.8,528.5 830.0,529.0 C827.2,529.5 821.8,532.5 820.0,533.0 C818.2,533.5 819.3,531.1 820.0,531.5 C820.7,531.9 824.9,533.2 823.8,535.3 C822.7,537.4 816.9,541.2 814.0,543.2 C811.1,545.2 809.4,545.9 808.0,546.3 C806.6,546.7 807.7,547.3 806.6,545.3 C805.5,543.3 803.6,538.6 802.2,535.3 C800.8,532.0 799.7,528.9 798.8,527.2 C797.9,525.5 797.1,525.8 797.5,525.8 C797.9,525.8 799.2,527.1 801.0,527.0 C802.8,526.9 806.0,526.6 807.5,525.5 C809.0,524.4 808.5,522.7 809.0,521.0 C809.5,519.3 810.7,516.7 810.5,516.0 C810.3,515.3 809.6,516.5 808.0,517.0 C806.4,517.5 804.1,518.2 802.0,518.5 C799.9,518.8 797.9,519.3 796.5,518.5 C795.1,517.7 794.8,515.4 794.5,514.0 C794.2,512.6 795.5,511.5 795.0,511.0 C794.5,510.5 792.8,511.0 792.0,511.5 C791.2,512.0 790.9,512.5 790.5,513.5 C790.1,514.5 790.5,515.9 790.0,517.0 C789.5,518.1 788.5,520.0 788.0,519.5 C787.5,519.0 787.7,516.2 787.0,514.5 C786.3,512.8 785.1,511.5 784.0,510.0 C782.9,508.5 782.0,507.0 781.0,506.5 C780.0,506.0 778.5,506.7 778.5,507.5 C778.5,508.3 780.0,509.6 781.0,511.0 C782.0,512.4 783.7,513.8 784.0,515.0 C784.3,516.2 783.0,516.8 782.5,517.5 C782.0,518.2 782.0,519.3 781.5,519.0 C781.0,518.7 780.8,517.3 780.0,516.0 C779.2,514.7 778.1,513.3 777.0,512.0 C775.9,510.7 775.3,509.4 774.0,508.8 C772.7,508.2 771.6,508.9 770.0,509.0 C768.4,509.1 767.0,509.0 765.5,509.5 C764.0,510.0 762.8,510.5 762.0,511.5 C761.2,512.5 762.0,513.9 761.0,515.0 C760.0,516.1 757.9,517.0 756.3,517.5 C754.7,518.0 754.0,518.0 752.5,517.7 C751.0,517.4 749.0,517.3 748.0,515.8 C747.0,514.3 745.8,510.7 747.3,509.3 Z" fill="#242424" />
<path d="M790.0,506.8 C790.8,505.7 792.3,504.1 794.5,503.8 C796.7,503.5 800.4,504.5 802.0,505.3 C803.6,506.1 803.8,507.2 803.5,508.3 C803.2,509.4 802.4,510.7 800.5,511.2 C798.6,511.7 794.9,511.1 793.0,510.8 C791.1,510.5 790.5,510.3 790.0,509.6 C789.5,508.9 789.2,507.9 790.0,506.8 Z" fill="#f9f9f9" />
<path d="M811.8,503.8 C812.9,503.1 817.0,504.1 817.8,505.3 C818.6,506.5 816.2,508.4 816.3,510.5 C816.4,512.6 818.6,515.1 818.5,516.5 C818.4,517.9 816.5,518.5 815.5,518.0 C814.5,517.5 814.0,515.1 813.3,513.5 C812.6,511.9 812.1,510.8 811.8,509.0 C811.5,507.2 810.7,504.5 811.8,503.8 Z" fill="#f9f9f9" />
<path d="M811.8,526.3 C811.7,526.7 812.9,528.2 814.0,529.3 C815.1,530.4 816.8,532.0 817.8,532.3 C818.8,532.6 819.8,531.8 819.3,530.8 C818.8,529.8 816.2,527.8 814.8,527.0 C813.4,526.2 811.9,525.9 811.8,526.3 Z" fill="#f9f9f9" />
<path d="M786.0,479.0 C786.5,477.8 789.2,477.4 790.0,478.5 C790.8,479.6 791.0,483.8 790.5,485.0 C790.0,486.2 787.8,486.1 787.0,485.0 C786.2,483.9 785.5,480.2 786.0,479.0 Z" fill="#f9f9f9" />
<path d="M904.5,523 L909,520.5 L914,515.5 L917.5,510 L919.5,506.5" fill="none" stroke="#242424" stroke-width="2.5" stroke-linecap="round"/>
<path d="M918,494.5 L918.8,503.5" fill="none" stroke="#242424" stroke-width="1.8" stroke-linecap="round"/>
<circle cx="848.2" cy="551.8" r="1.6" fill="#242424"/>
<ellipse cx="893.6" cy="534" rx="1" ry="1.8" fill="#242424"/>
<path d="M894.5,540 L896.5,545 M897,548 L898.5,552" fill="none" stroke="#242424" stroke-width="2.4" stroke-linecap="round"/>
<path d="M879.0,563.0 C879.7,563.0 881.0,563.0 883.0,565.0 C885.0,567.0 888.9,572.0 890.0,574.0 C891.1,576.0 890.1,576.5 889.0,576.0 C887.9,575.5 885.8,573.0 884.0,571.0 C882.2,569.0 879.9,566.5 879.0,565.0 C878.1,563.5 878.3,563.0 879.0,563.0 Z" fill="#242424" />
<path d="M890.0,576.0 C892.6,576.2 901.5,578.2 904.0,579.0 C906.5,579.8 906.2,580.8 903.6,580.6 C901.0,580.4 892.5,578.6 890.0,577.8 C887.5,577.0 887.4,575.8 890.0,576.0 Z" fill="#242424" />
<path d="M894.0,567.0 C895.1,565.5 899.2,563.8 901.0,564.0 C902.8,564.2 904.2,566.4 904.0,568.0 C903.8,569.6 901.6,572.3 900.0,573.0 C898.4,573.7 896.1,573.1 895.0,572.0 C893.9,570.9 892.9,568.5 894.0,567.0 Z" fill="#242424" />
<path d="M906.0,568.0 C906.6,567.5 909.1,567.9 909.5,568.5 C909.9,569.1 907.9,570.3 908.0,571.5 C908.1,572.7 910.1,574.5 910.0,575.0 C909.9,575.5 908.2,575.2 907.5,574.5 C906.8,573.8 906.3,572.2 906.0,571.0 C905.7,569.8 905.4,568.5 906.0,568.0 Z" fill="#242424" />
<path d="M920.0,570.0 C920.9,569.5 924.7,570.5 928.0,572.0 C931.3,573.5 935.6,576.4 938.0,578.0 C940.4,579.6 941.7,580.7 941.0,581.0 C940.3,581.3 936.4,580.0 934.0,579.5 C931.6,579.0 930.0,578.8 928.0,578.0 C926.0,577.2 924.5,576.5 923.0,575.0 C921.5,573.5 919.1,570.5 920.0,570.0 Z" fill="#242424" />
<path d="M906,580.5 L916,581.5" fill="none" stroke="#242424" stroke-width="1.4" stroke-dasharray="3 1.5"/>
<path d="M898.0,598.0 C898.2,596.0 898.0,594.8 900.0,593.0 C902.0,591.2 906.1,589.5 909.0,588.0 C911.9,586.5 914.0,585.9 916.0,585.0 C918.0,584.1 918.4,582.8 920.0,583.0 C921.6,583.2 923.4,585.1 925.0,586.0 C926.6,586.9 927.7,588.7 929.0,588.0 C930.3,587.3 930.9,582.2 932.0,582.4 C933.1,582.6 933.5,586.7 935.0,589.0 C936.5,591.3 938.4,592.8 940.0,595.0 C941.6,597.2 943.2,598.6 943.6,601.0 C944.0,603.4 943.4,605.6 942.4,608.0 C941.4,610.4 939.9,612.8 938.0,614.0 C936.1,615.2 934.2,615.1 932.0,614.4 C929.8,613.7 927.8,611.4 926.0,610.0 C924.2,608.6 924.2,607.7 922.0,607.0 C919.8,606.3 916.9,605.6 914.0,606.0 C911.1,606.4 908.4,608.3 906.0,609.0 C903.6,609.7 902.3,610.9 901.0,610.0 C899.7,609.1 899.5,606.2 899.0,604.0 C898.5,601.8 897.8,600.0 898.0,598.0 Z" fill="#242424" />
<path d="M933.8,617.6 C934.2,616.9 938.0,617.3 938.4,618.0 C938.8,618.7 936.8,621.7 936.0,621.6 C935.2,621.5 933.4,618.3 933.8,617.6 Z" fill="#242424" />
<path d="M966.0,610.0 C966.7,609.5 971.2,613.1 971.6,614.4 C972.0,615.7 969.0,617.8 968.0,617.0 C967.0,616.2 965.3,610.5 966.0,610.0 Z" fill="#242424" />
<path d="M967.0,618.4 C966.1,619.7 961.5,624.2 960.0,625.0 C958.5,625.8 958.1,624.3 959.0,623.0 C959.9,621.7 963.5,618.8 965.0,618.0 C966.5,617.2 967.9,617.1 967.0,618.4 Z" fill="#242424" />
</g>
<circle cx="752.8" cy="512.8" r="1.35" fill="#1aa3e0"/>
<circle cx="759.3" cy="523.7" r="1.35" fill="#1aa3e0"/>
<circle cx="776.5" cy="529" r="1.35" fill="#1aa3e0"/>
<circle cx="788.2" cy="529.3" r="1.35" fill="#1aa3e0"/>
<circle cx="780.3" cy="506.5" r="1.35" fill="#1aa3e0"/>
<circle cx="783.3" cy="502.7" r="1.35" fill="#1aa3e0"/>
<circle cx="787.5" cy="506" r="1.35" fill="#1aa3e0"/>
<circle cx="792.3" cy="513.8" r="1.35" fill="#1aa3e0"/>
<circle cx="794.5" cy="499.7" r="1.35" fill="#1aa3e0"/>
<circle cx="809" cy="512.8" r="1.35" fill="#1aa3e0"/>
<circle cx="814.8" cy="530.8" r="1.35" fill="#1aa3e0"/>
<circle cx="822.3" cy="524" r="1.35" fill="#1aa3e0"/>
<circle cx="837.3" cy="527.8" r="1.35" fill="#1aa3e0"/>
<circle cx="846" cy="535.6" r="1.35" fill="#1aa3e0"/>
<circle cx="802" cy="552.2" r="1.35" fill="#1aa3e0"/>
<circle cx="785.2" cy="596.8" r="1.35" fill="#1aa3e0"/>
<circle cx="872.3" cy="543.8" r="1.35" fill="#1aa3e0"/>
<circle cx="877.8" cy="545.6" r="1.35" fill="#1aa3e0"/>
<circle cx="677.4" cy="565.4" r="1.35" fill="#1aa3e0"/>
<circle cx="710.4" cy="584" r="1.35" fill="#1aa3e0"/>
<circle cx="694" cy="604.6" r="1.35" fill="#1aa3e0"/>
<circle cx="686.6" cy="547.5" r="1.35" fill="#1aa3e0"/>
<circle cx="679" cy="511" r="1.35" fill="#1aa3e0"/>
<circle cx="925" cy="599" r="1.35" fill="#1aa3e0"/>
<circle cx="775" cy="503.5" r="1.35" fill="#1aa3e0"/>
<circle cx="789.5" cy="497" r="1.35" fill="#1aa3e0"/>
<circle cx="818" cy="519" r="1.35" fill="#1aa3e0"/>
<circle cx="743.5" cy="538" r="1.35" fill="#1aa3e0"/>
<defs>
<clipPath id="fUS"><circle cx="653" cy="474.4" r="14.3"/></clipPath>
<clipPath id="fIT"><circle cx="771.7" cy="455.9" r="14.3"/></clipPath>
<clipPath id="fRU"><circle cx="816.7" cy="442.1" r="14.3"/></clipPath>
<linearGradient id="gloss" x1="0" y1="0" x2="0" y2="1"><stop offset="0" stop-color="#fff" stop-opacity="0.55"/><stop offset="0.45" stop-color="#fff" stop-opacity="0.08"/><stop offset="0.55" stop-color="#000" stop-opacity="0"/><stop offset="1" stop-color="#000" stop-opacity="0.18"/></linearGradient>
</defs>
<path d="M635.4,480.4 L635.4,490.4 L636.4,504.4 Q637.4,512.9 641.5,517.4 L651.8,527.0 Q653.0,528.0 654.2,527.0 L664.5,517.4 Q668.6,512.9 669.6,504.4 L670.6,490.4 L670.6,480.4 Z" fill="#189bd7"/>
<circle cx="653" cy="474.4" r="18" fill="#189bd7"/>
<text x="653.0" y="513.0" font-size="22" font-weight="bold" fill="#fff" stroke="#fff" stroke-width="0.4" text-anchor="middle" textLength="24.6" lengthAdjust="spacingAndGlyphs">53</text>
<path d="M754.1,461.9 L754.1,471.9 L755.1,485.9 Q756.1,494.4 760.2,498.9 L770.5,508.5 Q771.7,509.5 772.9,508.5 L783.2,498.9 Q787.3,494.4 788.3,485.9 L789.3,471.9 L789.3,461.9 Z" fill="#189bd7"/>
<circle cx="771.7" cy="455.9" r="18" fill="#189bd7"/>
<text x="771.7" y="494.5" font-size="22" font-weight="bold" fill="#fff" stroke="#fff" stroke-width="0.4" text-anchor="middle" textLength="24.6" lengthAdjust="spacingAndGlyphs">27</text>
<path d="M799.1,448.1 L799.1,458.1 L800.1,472.1 Q801.1,480.6 805.2,485.1 L815.5,494.7 Q816.7,495.7 817.9,494.7 L828.2,485.1 Q832.3,480.6 833.3,472.1 L834.3,458.1 L834.3,448.1 Z" fill="#189bd7"/>
<circle cx="816.7" cy="442.1" r="18" fill="#189bd7"/>
<text x="816.7" y="480.7" font-size="22" font-weight="bold" fill="#fff" stroke="#fff" stroke-width="0.4" text-anchor="middle" textLength="24.6" lengthAdjust="spacingAndGlyphs">77</text>
<g clip-path="url(#fUS)">
<rect x="639" y="460" width="28" height="29" fill="#fff"/>
<rect x="639" y="460.8" width="28" height="2.1" fill="#c8202f"/>
<rect x="639" y="465.0" width="28" height="2.1" fill="#c8202f"/>
<rect x="639" y="469.2" width="28" height="2.1" fill="#c8202f"/>
<rect x="639" y="473.4" width="28" height="2.1" fill="#c8202f"/>
<rect x="639" y="477.6" width="28" height="2.1" fill="#c8202f"/>
<rect x="639" y="481.8" width="28" height="2.1" fill="#c8202f"/>
<rect x="639" y="486.0" width="28" height="2.1" fill="#c8202f"/>
<rect x="639" y="460" width="14.5" height="14.6" fill="#2b3a8c"/>
<circle cx="641.5" cy="463.0" r="0.55" fill="#fff"/>
<circle cx="644.7" cy="463.0" r="0.55" fill="#fff"/>
<circle cx="647.9" cy="463.0" r="0.55" fill="#fff"/>
<circle cx="651.1" cy="463.0" r="0.55" fill="#fff"/>
<circle cx="643.1" cy="466.2" r="0.55" fill="#fff"/>
<circle cx="646.3" cy="466.2" r="0.55" fill="#fff"/>
<circle cx="649.5" cy="466.2" r="0.55" fill="#fff"/>
<circle cx="652.7" cy="466.2" r="0.55" fill="#fff"/>
<circle cx="641.5" cy="469.4" r="0.55" fill="#fff"/>
<circle cx="644.7" cy="469.4" r="0.55" fill="#fff"/>
<circle cx="647.9" cy="469.4" r="0.55" fill="#fff"/>
<circle cx="651.1" cy="469.4" r="0.55" fill="#fff"/>
<circle cx="643.1" cy="472.6" r="0.55" fill="#fff"/>
<circle cx="646.3" cy="472.6" r="0.55" fill="#fff"/>
<circle cx="649.5" cy="472.6" r="0.55" fill="#fff"/>
<circle cx="652.7" cy="472.6" r="0.55" fill="#fff"/>
<circle cx="653" cy="474.4" r="14.3" fill="url(#gloss)"/></g>
<g clip-path="url(#fIT)"><rect x="758" y="442" width="9.4" height="28" fill="#2f9a4a"/><rect x="767.4" y="442" width="8.8" height="28" fill="#fff"/><rect x="776.2" y="442" width="10" height="28" fill="#d22b2f"/><circle cx="771.7" cy="455.9" r="14.3" fill="url(#gloss)"/></g>
<g clip-path="url(#fRU)"><rect x="803" y="428" width="28" height="9.8" fill="#fff"/><rect x="803" y="437.8" width="28" height="8.8" fill="#2a4ca8"/><rect x="803" y="446.6" width="28" height="10" fill="#d7282f"/><circle cx="816.7" cy="442.1" r="14.3" fill="url(#gloss)"/></g>
<path d="M603.0,662.4 L607.8,665.4 L603.0,668.4" fill="none" stroke="#189bd7" stroke-width="1.7"/>
<text x="612.8" y="670.9" font-size="15.0" fill="#232323" font-weight="bold" textLength="71.0" lengthAdjust="spacingAndGlyphs" stroke="#232323" stroke-width="0.25">RUSSIA : 75</text>
<text x="688.2" y="670.9" font-size="15.0" fill="#8a8a8a" textLength="4.2" lengthAdjust="spacingAndGlyphs">/</text>
<text x="697.3" y="670.9" font-size="15.0" fill="#cc2229" font-weight="bold" textLength="15.0" lengthAdjust="spacingAndGlyphs" stroke="#cc2229" stroke-width="0.25">77</text>
<path d="M603.0,681.7 L607.8,684.7 L603.0,687.7" fill="none" stroke="#189bd7" stroke-width="1.7"/>
<text x="612.8" y="690.2" font-size="15.0" fill="#232323" font-weight="bold" textLength="125.0" lengthAdjust="spacingAndGlyphs" stroke="#232323" stroke-width="0.25">UNITED STATES : 53</text>
<path d="M603.0,701.0 L607.8,704.0 L603.0,707.0" fill="none" stroke="#189bd7" stroke-width="1.7"/>
<text x="612.8" y="709.5" font-size="15.0" fill="#232323" font-weight="bold" textLength="59.3" lengthAdjust="spacingAndGlyphs" stroke="#232323" stroke-width="0.25">ITALY : 27</text>
<path d="M603.0,720.4 L607.8,723.4 L603.0,726.4" fill="none" stroke="#189bd7" stroke-width="1.7"/>
<text x="612.8" y="728.9" font-size="15.0" fill="#232323" font-weight="bold" textLength="70.3" lengthAdjust="spacingAndGlyphs" stroke="#232323" stroke-width="0.25">BRAZIL : 12</text>
<text x="687.5" y="728.9" font-size="15.0" fill="#8a8a8a" textLength="4.2" lengthAdjust="spacingAndGlyphs">/</text>
<text x="696.6" y="728.9" font-size="15.0" fill="#cc2229" font-weight="bold" textLength="15.0" lengthAdjust="spacingAndGlyphs" stroke="#cc2229" stroke-width="0.25">17</text>
<path d="M603.0,739.7 L607.8,742.7 L603.0,745.7" fill="none" stroke="#189bd7" stroke-width="1.7"/>
<text x="612.8" y="748.2" font-size="15.0" fill="#232323" font-weight="bold" textLength="89.7" lengthAdjust="spacingAndGlyphs" stroke="#232323" stroke-width="0.25">UNITED ARAB</text>
<text x="612.8" y="767.5" font-size="15.0" fill="#232323" font-weight="bold" textLength="82.4" lengthAdjust="spacingAndGlyphs" stroke="#232323" stroke-width="0.25">EMIRATES : 6</text>
<text x="699.6" y="767.5" font-size="15.0" fill="#8a8a8a" textLength="4.2" lengthAdjust="spacingAndGlyphs">/</text>
<text x="708.7" y="767.5" font-size="15.0" fill="#cc2229" font-weight="bold" textLength="15.0" lengthAdjust="spacingAndGlyphs" stroke="#cc2229" stroke-width="0.25">11</text>
<path d="M603.0,778.3 L607.8,781.3 L603.0,784.3" fill="none" stroke="#189bd7" stroke-width="1.7"/>
<text x="612.8" y="786.8" font-size="15.0" fill="#232323" font-weight="bold" textLength="88.1" lengthAdjust="spacingAndGlyphs" stroke="#232323" stroke-width="0.25">MOROCCO : 2</text>
<text x="705.3" y="786.8" font-size="15.0" fill="#8a8a8a" textLength="4.2" lengthAdjust="spacingAndGlyphs">/</text>
<text x="714.4" y="786.8" font-size="15.0" fill="#cc2229" font-weight="bold" textLength="15.0" lengthAdjust="spacingAndGlyphs" stroke="#cc2229" stroke-width="0.25">11</text>
<path d="M603.0,797.6 L607.8,800.6 L603.0,803.6" fill="none" stroke="#189bd7" stroke-width="1.7"/>
<text x="612.8" y="806.1" font-size="15.0" fill="#232323" font-weight="bold" textLength="97.6" lengthAdjust="spacingAndGlyphs" stroke="#232323" stroke-width="0.25">AUSTRALIA : 10</text>
<path d="M603.0,817.0 L607.8,820.0 L603.0,823.0" fill="none" stroke="#189bd7" stroke-width="1.7"/>
<text x="612.8" y="825.5" font-size="15.0" fill="#232323" font-weight="bold" textLength="62.7" lengthAdjust="spacingAndGlyphs" stroke="#232323" stroke-width="0.25">SERBIA : 8</text>
<path d="M603.0,836.3 L607.8,839.3 L603.0,842.3" fill="none" stroke="#189bd7" stroke-width="1.7"/>
<text x="612.8" y="844.8" font-size="15.0" fill="#232323" font-weight="bold" textLength="60.8" lengthAdjust="spacingAndGlyphs" stroke="#232323" stroke-width="0.25">KENYA : 7</text>
<path d="M603.0,855.6 L607.8,858.6 L603.0,861.6" fill="none" stroke="#189bd7" stroke-width="1.7"/>
<text x="612.8" y="864.1" font-size="15.0" fill="#232323" font-weight="bold" textLength="69.9" lengthAdjust="spacingAndGlyphs" stroke="#232323" stroke-width="0.25">NIGERIA : 6</text>
<path d="M603.0,874.9 L607.8,877.9 L603.0,880.9" fill="none" stroke="#189bd7" stroke-width="1.7"/>
<text x="612.8" y="883.4" font-size="15.0" fill="#232323" font-weight="bold" textLength="72.9" lengthAdjust="spacingAndGlyphs" stroke="#232323" stroke-width="0.25">POLAND : 6</text>
<path d="M603.0,894.2 L607.8,897.2 L603.0,900.2" fill="none" stroke="#189bd7" stroke-width="1.7"/>
<text x="612.8" y="902.7" font-size="15.0" fill="#232323" font-weight="bold" textLength="93.5" lengthAdjust="spacingAndGlyphs" stroke="#232323" stroke-width="0.25">ARGENTINA : 3</text>
<text x="710.7" y="902.7" font-size="15.0" fill="#8a8a8a" textLength="4.2" lengthAdjust="spacingAndGlyphs">/</text>
<text x="719.8" y="902.7" font-size="15.0" fill="#cc2229" font-weight="bold" textLength="7.3" lengthAdjust="spacingAndGlyphs" stroke="#cc2229" stroke-width="0.25">5</text>
<path d="M603.0,913.6 L607.8,916.6 L603.0,919.6" fill="none" stroke="#189bd7" stroke-width="1.7"/>
<text x="612.8" y="922.1" font-size="15.0" fill="#232323" font-weight="bold" textLength="69.1" lengthAdjust="spacingAndGlyphs" stroke="#232323" stroke-width="0.25">FRANCE : 5</text>
<path d="M603.0,932.9 L607.8,935.9 L603.0,938.9" fill="none" stroke="#189bd7" stroke-width="1.7"/>
<text x="612.8" y="941.4" font-size="15.0" fill="#232323" font-weight="bold" textLength="49.0" lengthAdjust="spacingAndGlyphs" stroke="#232323" stroke-width="0.25">IRAN : 5</text>
<path d="M603.0,952.2 L607.8,955.2 L603.0,958.2" fill="none" stroke="#189bd7" stroke-width="1.7"/>
<text x="612.8" y="960.7" font-size="15.0" fill="#232323" font-weight="bold" textLength="68.4" lengthAdjust="spacingAndGlyphs" stroke="#232323" stroke-width="0.25">TURKEY : 5</text>
<path d="M603.0,971.5 L607.8,974.5 L603.0,977.5" fill="none" stroke="#189bd7" stroke-width="1.7"/>
<text x="612.8" y="980.0" font-size="15.0" fill="#232323" font-weight="bold" textLength="76.7" lengthAdjust="spacingAndGlyphs" stroke="#232323" stroke-width="0.25">UKRAINE : 5</text>
<path d="M603.0,990.8 L607.8,993.8 L603.0,996.8" fill="none" stroke="#189bd7" stroke-width="1.7"/>
<text x="612.8" y="999.3" font-size="15.0" fill="#232323" font-weight="bold" textLength="107.9" lengthAdjust="spacingAndGlyphs" stroke="#232323" stroke-width="0.25">KAZAKHSTAN : 4</text>
<text x="725.1" y="999.3" font-size="15.0" fill="#8a8a8a" textLength="4.2" lengthAdjust="spacingAndGlyphs">/</text>
<text x="734.2" y="999.3" font-size="15.0" fill="#cc2229" font-weight="bold" textLength="7.3" lengthAdjust="spacingAndGlyphs" stroke="#cc2229" stroke-width="0.25">5</text>
<path d="M603.0,1010.2 L607.8,1013.2 L603.0,1016.2" fill="none" stroke="#189bd7" stroke-width="1.7"/>
<text x="612.8" y="1018.7" font-size="15.0" fill="#232323" font-weight="bold" textLength="77.9" lengthAdjust="spacingAndGlyphs" stroke="#232323" stroke-width="0.25">BAHRAIN : 4</text>
<path d="M603.0,1029.5 L607.8,1032.5 L603.0,1035.5" fill="none" stroke="#189bd7" stroke-width="1.7"/>
<text x="612.8" y="1038.0" font-size="15.0" fill="#232323" font-weight="bold" textLength="110.6" lengthAdjust="spacingAndGlyphs" stroke="#232323" stroke-width="0.25">SAUDI ARABIA : 4</text>
<path d="M603.0,1048.8 L607.8,1051.8 L603.0,1054.8" fill="none" stroke="#189bd7" stroke-width="1.7"/>
<text x="612.8" y="1057.3" font-size="15.0" fill="#232323" font-weight="bold" textLength="60.8" lengthAdjust="spacingAndGlyphs" stroke="#232323" stroke-width="0.25">SUISSE : 4</text>
<path d="M603.0,1068.1 L607.8,1071.1 L603.0,1074.1" fill="none" stroke="#189bd7" stroke-width="1.7"/>
<text x="612.8" y="1076.6" font-size="15.0" fill="#232323" font-weight="bold" textLength="88.9" lengthAdjust="spacingAndGlyphs" stroke="#232323" stroke-width="0.25">COLOMBIA : 3</text>
<text x="706.1" y="1076.6" font-size="15.0" fill="#8a8a8a" textLength="4.2" lengthAdjust="spacingAndGlyphs">/</text>
<text x="715.2" y="1076.6" font-size="15.0" fill="#cc2229" font-weight="bold" textLength="7.3" lengthAdjust="spacingAndGlyphs" stroke="#cc2229" stroke-width="0.25">4</text>
<path d="M603.0,1087.4 L607.8,1090.4 L603.0,1093.4" fill="none" stroke="#189bd7" stroke-width="1.7"/>
<text x="612.8" y="1095.9" font-size="15.0" fill="#232323" font-weight="bold" textLength="69.9" lengthAdjust="spacingAndGlyphs" stroke="#232323" stroke-width="0.25">MEXICO : 3</text>
<text x="687.1" y="1095.9" font-size="15.0" fill="#8a8a8a" textLength="4.2" lengthAdjust="spacingAndGlyphs">/</text>
<text x="696.2" y="1095.9" font-size="15.0" fill="#cc2229" font-weight="bold" textLength="7.3" lengthAdjust="spacingAndGlyphs" stroke="#cc2229" stroke-width="0.25">4</text>
<path d="M603.0,1106.8 L607.8,1109.8 L603.0,1112.8" fill="none" stroke="#189bd7" stroke-width="1.7"/>
<text x="612.8" y="1115.3" font-size="15.0" fill="#232323" font-weight="bold" textLength="76.4" lengthAdjust="spacingAndGlyphs" stroke="#232323" stroke-width="0.25">BELGIUM : 1</text>
<text x="693.6" y="1115.3" font-size="15.0" fill="#8a8a8a" textLength="4.2" lengthAdjust="spacingAndGlyphs">/</text>
<text x="702.7" y="1115.3" font-size="15.0" fill="#cc2229" font-weight="bold" textLength="7.3" lengthAdjust="spacingAndGlyphs" stroke="#cc2229" stroke-width="0.25">4</text>
<path d="M603.0,1126.1 L607.8,1129.1 L603.0,1132.1" fill="none" stroke="#189bd7" stroke-width="1.7"/>
<text x="612.8" y="1134.6" font-size="15.0" fill="#232323" font-weight="bold" textLength="74.5" lengthAdjust="spacingAndGlyphs" stroke="#232323" stroke-width="0.25">SWEDEN : 0</text>
<text x="691.7" y="1134.6" font-size="15.0" fill="#8a8a8a" textLength="4.2" lengthAdjust="spacingAndGlyphs">/</text>
<text x="700.8" y="1134.6" font-size="15.0" fill="#cc2229" font-weight="bold" textLength="7.3" lengthAdjust="spacingAndGlyphs" stroke="#cc2229" stroke-width="0.25">4</text>
<path d="M603.0,1145.4 L607.8,1148.4 L603.0,1151.4" fill="none" stroke="#189bd7" stroke-width="1.7"/>
<text x="612.8" y="1153.9" font-size="15.0" fill="#232323" font-weight="bold" textLength="72.9" lengthAdjust="spacingAndGlyphs" stroke="#232323" stroke-width="0.25">AUSTRIA : 3</text>
<path d="M603.0,1164.7 L607.8,1167.7 L603.0,1170.7" fill="none" stroke="#189bd7" stroke-width="1.7"/>
<text x="612.8" y="1173.2" font-size="15.0" fill="#232323" font-weight="bold" textLength="72.9" lengthAdjust="spacingAndGlyphs" stroke="#232323" stroke-width="0.25">CANADA : 3</text>
<path d="M603.0,1184.0 L607.8,1187.0 L603.0,1190.0" fill="none" stroke="#189bd7" stroke-width="1.7"/>
<text x="612.8" y="1192.5" font-size="15.0" fill="#232323" font-weight="bold" textLength="58.5" lengthAdjust="spacingAndGlyphs" stroke="#232323" stroke-width="0.25">EGYPT : 3</text>
<path d="M603.0,1203.4 L607.8,1206.4 L603.0,1209.4" fill="none" stroke="#189bd7" stroke-width="1.7"/>
<text x="612.8" y="1211.9" font-size="15.0" fill="#232323" font-weight="bold" textLength="79.4" lengthAdjust="spacingAndGlyphs" stroke="#232323" stroke-width="0.25">ETHIOPIA : 3</text>
<path d="M603.0,1222.7 L607.8,1225.7 L603.0,1228.7" fill="none" stroke="#189bd7" stroke-width="1.7"/>
<text x="612.8" y="1231.2" font-size="15.0" fill="#232323" font-weight="bold" textLength="54.3" lengthAdjust="spacingAndGlyphs" stroke="#232323" stroke-width="0.25">INDIA : 3</text>
<path d="M603.0,1242.0 L607.8,1245.0 L603.0,1248.0" fill="none" stroke="#189bd7" stroke-width="1.7"/>
<text x="612.8" y="1250.5" font-size="15.0" fill="#232323" font-weight="bold" textLength="76.0" lengthAdjust="spacingAndGlyphs" stroke="#232323" stroke-width="0.25">GEORGIA : 3</text>
<path d="M603.0,1261.3 L607.8,1264.3 L603.0,1267.3" fill="none" stroke="#189bd7" stroke-width="1.7"/>
<text x="612.8" y="1269.8" font-size="15.0" fill="#232323" font-weight="bold" textLength="137.9" lengthAdjust="spacingAndGlyphs" stroke="#232323" stroke-width="0.25">UNITED KINGDOM : 3</text>
<path d="M603.0,1280.6 L607.8,1283.6 L603.0,1286.6" fill="none" stroke="#189bd7" stroke-width="1.7"/>
<text x="612.8" y="1289.1" font-size="15.0" fill="#232323" font-weight="bold" textLength="81.7" lengthAdjust="spacingAndGlyphs" stroke="#232323" stroke-width="0.25">ROMANIA : 3</text>
<path d="M603.0,1300.0 L607.8,1303.0 L603.0,1306.0" fill="none" stroke="#189bd7" stroke-width="1.7"/>
<text x="612.8" y="1308.5" font-size="15.0" fill="#232323" font-weight="bold" textLength="84.0" lengthAdjust="spacingAndGlyphs" stroke="#232323" stroke-width="0.25">GERMANY : 2</text>
<text x="701.2" y="1308.5" font-size="15.0" fill="#8a8a8a" textLength="4.2" lengthAdjust="spacingAndGlyphs">/</text>
<text x="710.3" y="1308.5" font-size="15.0" fill="#cc2229" font-weight="bold" textLength="7.3" lengthAdjust="spacingAndGlyphs" stroke="#cc2229" stroke-width="0.25">3</text>
<path d="M603.0,1319.3 L607.8,1322.3 L603.0,1325.3" fill="none" stroke="#189bd7" stroke-width="1.7"/>
<text x="612.8" y="1327.8" font-size="15.0" fill="#232323" font-weight="bold" textLength="85.5" lengthAdjust="spacingAndGlyphs" stroke="#232323" stroke-width="0.25">THAILAND : 2</text>
<text x="702.7" y="1327.8" font-size="15.0" fill="#8a8a8a" textLength="4.2" lengthAdjust="spacingAndGlyphs">/</text>
<text x="711.8" y="1327.8" font-size="15.0" fill="#cc2229" font-weight="bold" textLength="7.3" lengthAdjust="spacingAndGlyphs" stroke="#cc2229" stroke-width="0.25">3</text>
<path d="M603.0,1338.6 L607.8,1341.6 L603.0,1344.6" fill="none" stroke="#189bd7" stroke-width="1.7"/>
<text x="612.8" y="1347.1" font-size="15.0" fill="#232323" font-weight="bold" textLength="92.7" lengthAdjust="spacingAndGlyphs" stroke="#232323" stroke-width="0.25">VENEZUELA : 2</text>
<text x="709.9" y="1347.1" font-size="15.0" fill="#8a8a8a" textLength="4.2" lengthAdjust="spacingAndGlyphs">/</text>
<text x="719.0" y="1347.1" font-size="15.0" fill="#cc2229" font-weight="bold" textLength="7.3" lengthAdjust="spacingAndGlyphs" stroke="#cc2229" stroke-width="0.25">3</text>
<path d="M777.9,662.4 L782.7,665.4 L777.9,668.4" fill="none" stroke="#189bd7" stroke-width="1.7"/>
<text x="787.7" y="670.9" font-size="15.0" fill="#232323" font-weight="bold" textLength="99.5" lengthAdjust="spacingAndGlyphs" stroke="#232323" stroke-width="0.25">UZBEKISTAN : 1</text>
<text x="891.6" y="670.9" font-size="15.0" fill="#8a8a8a" textLength="4.2" lengthAdjust="spacingAndGlyphs">/</text>
<text x="900.7" y="670.9" font-size="15.0" fill="#cc2229" font-weight="bold" textLength="7.3" lengthAdjust="spacingAndGlyphs" stroke="#cc2229" stroke-width="0.25">3</text>
<path d="M777.9,681.7 L782.7,684.7 L777.9,687.7" fill="none" stroke="#189bd7" stroke-width="1.7"/>
<text x="787.7" y="690.2" font-size="15.0" fill="#232323" font-weight="bold" textLength="76.4" lengthAdjust="spacingAndGlyphs" stroke="#232323" stroke-width="0.25">NAMIBIA : 2</text>
<path d="M777.9,701.0 L782.7,704.0 L777.9,707.0" fill="none" stroke="#189bd7" stroke-width="1.7"/>
<text x="787.7" y="709.5" font-size="15.0" fill="#232323" font-weight="bold" textLength="88.9" lengthAdjust="spacingAndGlyphs" stroke="#232323" stroke-width="0.25">PORTUGAL : 2</text>
<path d="M777.9,720.4 L782.7,723.4 L777.9,726.4" fill="none" stroke="#189bd7" stroke-width="1.7"/>
<text x="787.7" y="728.9" font-size="15.0" fill="#232323" font-weight="bold" textLength="61.9" lengthAdjust="spacingAndGlyphs" stroke="#232323" stroke-width="0.25">QATAR : 2</text>
<path d="M777.9,739.7 L782.7,742.7 L777.9,745.7" fill="none" stroke="#189bd7" stroke-width="1.7"/>
<text x="787.7" y="748.2" font-size="15.0" fill="#232323" font-weight="bold" textLength="127.7" lengthAdjust="spacingAndGlyphs" stroke="#232323" stroke-width="0.25">CZECH REPUBLIC : 2</text>
<path d="M777.9,759.0 L782.7,762.0 L777.9,765.0" fill="none" stroke="#189bd7" stroke-width="1.7"/>
<text x="787.7" y="767.5" font-size="15.0" fill="#232323" font-weight="bold" textLength="63.1" lengthAdjust="spacingAndGlyphs" stroke="#232323" stroke-width="0.25">LATVIA : 1</text>
<text x="855.2" y="767.5" font-size="15.0" fill="#8a8a8a" textLength="4.2" lengthAdjust="spacingAndGlyphs">/</text>
<text x="864.3" y="767.5" font-size="15.0" fill="#cc2229" font-weight="bold" textLength="7.3" lengthAdjust="spacingAndGlyphs" stroke="#cc2229" stroke-width="0.25">2</text>
<path d="M777.9,778.3 L782.7,781.3 L777.9,784.3" fill="none" stroke="#189bd7" stroke-width="1.7"/>
<text x="787.7" y="786.8" font-size="15.0" fill="#232323" font-weight="bold" textLength="60.0" lengthAdjust="spacingAndGlyphs" stroke="#232323" stroke-width="0.25">CHINA : 0</text>
<text x="852.1" y="786.8" font-size="15.0" fill="#8a8a8a" textLength="4.2" lengthAdjust="spacingAndGlyphs">/</text>
<text x="861.2" y="786.8" font-size="15.0" fill="#cc2229" font-weight="bold" textLength="7.3" lengthAdjust="spacingAndGlyphs" stroke="#cc2229" stroke-width="0.25">2</text>
<path d="M777.9,797.6 L782.7,800.6 L777.9,803.6" fill="none" stroke="#189bd7" stroke-width="1.7"/>
<text x="787.7" y="806.1" font-size="15.0" fill="#232323" font-weight="bold" textLength="82.4" lengthAdjust="spacingAndGlyphs" stroke="#232323" stroke-width="0.25">SLOVAKIA : 0</text>
<text x="874.5" y="806.1" font-size="15.0" fill="#8a8a8a" textLength="4.2" lengthAdjust="spacingAndGlyphs">/</text>
<text x="883.6" y="806.1" font-size="15.0" fill="#cc2229" font-weight="bold" textLength="7.3" lengthAdjust="spacingAndGlyphs" stroke="#cc2229" stroke-width="0.25">2</text>
<path d="M777.9,817.0 L782.7,820.0 L777.9,823.0" fill="none" stroke="#189bd7" stroke-width="1.7"/>
<text x="787.7" y="825.5" font-size="15.0" fill="#232323" font-weight="bold" textLength="86.6" lengthAdjust="spacingAndGlyphs" stroke="#232323" stroke-width="0.25">SKI LANKA : 2</text>
<path d="M777.9,836.3 L782.7,839.3 L777.9,842.3" fill="none" stroke="#189bd7" stroke-width="1.7"/>
<text x="787.7" y="844.8" font-size="15.0" fill="#232323" font-weight="bold" textLength="114.4" lengthAdjust="spacingAndGlyphs" stroke="#232323" stroke-width="0.25">SOUTH AFRICA : 1</text>
<path d="M777.9,855.6 L782.7,858.6 L777.9,861.6" fill="none" stroke="#189bd7" stroke-width="1.7"/>
<text x="787.7" y="864.1" font-size="15.0" fill="#232323" font-weight="bold" textLength="74.5" lengthAdjust="spacingAndGlyphs" stroke="#232323" stroke-width="0.25">ALBANIA : 1</text>
<path d="M777.9,874.9 L782.7,877.9 L777.9,880.9" fill="none" stroke="#189bd7" stroke-width="1.7"/>
<text x="787.7" y="883.4" font-size="15.0" fill="#232323" font-weight="bold" textLength="75.6" lengthAdjust="spacingAndGlyphs" stroke="#232323" stroke-width="0.25">BELARUS : 1</text>
<path d="M777.9,894.2 L782.7,897.2 L777.9,900.2" fill="none" stroke="#189bd7" stroke-width="1.7"/>
<text x="787.7" y="902.7" font-size="15.0" fill="#232323" font-weight="bold" textLength="83.6" lengthAdjust="spacingAndGlyphs" stroke="#232323" stroke-width="0.25">BULGARIA : 1</text>
<path d="M777.9,913.6 L782.7,916.6 L777.9,919.6" fill="none" stroke="#189bd7" stroke-width="1.7"/>
<text x="787.7" y="922.1" font-size="15.0" fill="#232323" font-weight="bold" textLength="96.5" lengthAdjust="spacingAndGlyphs" stroke="#232323" stroke-width="0.25">CAMEROON : 1</text>
<path d="M777.9,932.9 L782.7,935.9 L777.9,938.9" fill="none" stroke="#189bd7" stroke-width="1.7"/>
<text x="787.7" y="941.4" font-size="15.0" fill="#232323" font-weight="bold" textLength="69.1" lengthAdjust="spacingAndGlyphs" stroke="#232323" stroke-width="0.25">CYPRUS : 1</text>
<path d="M777.9,952.2 L782.7,955.2 L777.9,958.2" fill="none" stroke="#189bd7" stroke-width="1.7"/>
<text x="787.7" y="960.7" font-size="15.0" fill="#232323" font-weight="bold" textLength="112.1" lengthAdjust="spacingAndGlyphs" stroke="#232323" stroke-width="0.25">SOUTH KOREA : 1</text>
<path d="M777.9,971.5 L782.7,974.5 L777.9,977.5" fill="none" stroke="#189bd7" stroke-width="1.7"/>
<text x="787.7" y="980.0" font-size="15.0" fill="#232323" font-weight="bold" textLength="80.5" lengthAdjust="spacingAndGlyphs" stroke="#232323" stroke-width="0.25">DOMINICAN</text>
<text x="787.7" y="999.3" font-size="15.0" fill="#232323" font-weight="bold" textLength="81.3" lengthAdjust="spacingAndGlyphs" stroke="#232323" stroke-width="0.25">REPUBLIC : 1</text>
<path d="M777.9,1010.2 L782.7,1013.2 L777.9,1016.2" fill="none" stroke="#189bd7" stroke-width="1.7"/>
<text x="787.7" y="1018.7" font-size="15.0" fill="#232323" font-weight="bold" textLength="82.1" lengthAdjust="spacingAndGlyphs" stroke="#232323" stroke-width="0.25">ECUADOR : 1</text>
<path d="M777.9,1029.5 L782.7,1032.5 L777.9,1035.5" fill="none" stroke="#189bd7" stroke-width="1.7"/>
<text x="787.7" y="1038.0" font-size="15.0" fill="#232323" font-weight="bold" textLength="72.9" lengthAdjust="spacingAndGlyphs" stroke="#232323" stroke-width="0.25">GUYANA : 1</text>
<path d="M777.9,1048.8 L782.7,1051.8 L777.9,1054.8" fill="none" stroke="#189bd7" stroke-width="1.7"/>
<text x="787.7" y="1057.3" font-size="15.0" fill="#232323" font-weight="bold" textLength="49.8" lengthAdjust="spacingAndGlyphs" stroke="#232323" stroke-width="0.25">IRAQ : 1</text>
<path d="M777.9,1068.1 L782.7,1071.1 L777.9,1074.1" fill="none" stroke="#189bd7" stroke-width="1.7"/>
<text x="787.7" y="1076.6" font-size="15.0" fill="#232323" font-weight="bold" textLength="75.6" lengthAdjust="spacingAndGlyphs" stroke="#232323" stroke-width="0.25">JAMAICA : 1</text>
<path d="M777.9,1087.4 L782.7,1090.4 L777.9,1093.4" fill="none" stroke="#189bd7" stroke-width="1.7"/>
<text x="787.7" y="1095.9" font-size="15.0" fill="#232323" font-weight="bold" textLength="59.3" lengthAdjust="spacingAndGlyphs" stroke="#232323" stroke-width="0.25">JAPAN : 1</text>
<path d="M777.9,1106.8 L782.7,1109.8 L777.9,1112.8" fill="none" stroke="#189bd7" stroke-width="1.7"/>
<text x="787.7" y="1115.3" font-size="15.0" fill="#232323" font-weight="bold" textLength="71.0" lengthAdjust="spacingAndGlyphs" stroke="#232323" stroke-width="0.25">JORDAN : 1</text>
<path d="M777.9,1126.1 L782.7,1129.1 L777.9,1132.1" fill="none" stroke="#189bd7" stroke-width="1.7"/>
<text x="787.7" y="1134.6" font-size="15.0" fill="#232323" font-weight="bold" textLength="70.7" lengthAdjust="spacingAndGlyphs" stroke="#232323" stroke-width="0.25">KUWAIT : 1</text>
<path d="M777.9,1145.4 L782.7,1148.4 L777.9,1151.4" fill="none" stroke="#189bd7" stroke-width="1.7"/>
<text x="787.7" y="1153.9" font-size="15.0" fill="#232323" font-weight="bold" textLength="85.5" lengthAdjust="spacingAndGlyphs" stroke="#232323" stroke-width="0.25">MOLDOVA : 1</text>
<path d="M777.9,1164.7 L782.7,1167.7 L777.9,1170.7" fill="none" stroke="#189bd7" stroke-width="1.7"/>
<text x="787.7" y="1173.2" font-size="15.0" fill="#232323" font-weight="bold" textLength="150.8" lengthAdjust="spacingAndGlyphs" stroke="#232323" stroke-width="0.25">PAPUA NEW GUINEA : 1</text>
<path d="M777.9,1184.0 L782.7,1187.0 L777.9,1190.0" fill="none" stroke="#189bd7" stroke-width="1.7"/>
<text x="787.7" y="1192.5" font-size="15.0" fill="#232323" font-weight="bold" textLength="74.8" lengthAdjust="spacingAndGlyphs" stroke="#232323" stroke-width="0.25">SENEGAL : 1</text>
<path d="M777.9,1203.4 L782.7,1206.4 L777.9,1209.4" fill="none" stroke="#189bd7" stroke-width="1.7"/>
<text x="787.7" y="1211.9" font-size="15.0" fill="#232323" font-weight="bold" textLength="97.3" lengthAdjust="spacingAndGlyphs" stroke="#232323" stroke-width="0.25">TRINIDAD AND</text>
<text x="787.7" y="1231.2" font-size="15.0" fill="#232323" font-weight="bold" textLength="73.7" lengthAdjust="spacingAndGlyphs" stroke="#232323" stroke-width="0.25">TOBAGO : 1</text>
<path d="M777.9,1242.0 L782.7,1245.0 L777.9,1248.0" fill="none" stroke="#189bd7" stroke-width="1.7"/>
<text x="787.7" y="1250.5" font-size="15.0" fill="#232323" font-weight="bold" textLength="69.1" lengthAdjust="spacingAndGlyphs" stroke="#232323" stroke-width="0.25">TUNISIA : 1</text>
<path d="M777.9,1261.3 L782.7,1264.3 L777.9,1267.3" fill="none" stroke="#189bd7" stroke-width="1.7"/>
<text x="787.7" y="1269.8" font-size="15.0" fill="#232323" font-weight="bold" textLength="69.9" lengthAdjust="spacingAndGlyphs" stroke="#232323" stroke-width="0.25">ALGERIA: 0</text>
<text x="862.0" y="1269.8" font-size="15.0" fill="#8a8a8a" textLength="4.2" lengthAdjust="spacingAndGlyphs">/</text>
<text x="871.1" y="1269.8" font-size="15.0" fill="#cc2229" font-weight="bold" textLength="7.3" lengthAdjust="spacingAndGlyphs" stroke="#cc2229" stroke-width="0.25">1</text>
<path d="M777.9,1280.6 L782.7,1283.6 L777.9,1286.6" fill="none" stroke="#189bd7" stroke-width="1.7"/>
<text x="787.7" y="1289.1" font-size="15.0" fill="#232323" font-weight="bold" textLength="115.9" lengthAdjust="spacingAndGlyphs" stroke="#232323" stroke-width="0.25">COOK ISLANDS : 0</text>
<text x="908.0" y="1289.1" font-size="15.0" fill="#8a8a8a" textLength="4.2" lengthAdjust="spacingAndGlyphs">/</text>
<text x="917.1" y="1289.1" font-size="15.0" fill="#cc2229" font-weight="bold" textLength="7.3" lengthAdjust="spacingAndGlyphs" stroke="#cc2229" stroke-width="0.25">1</text>
<path d="M777.9,1300.0 L782.7,1303.0 L777.9,1306.0" fill="none" stroke="#189bd7" stroke-width="1.7"/>
<text x="787.7" y="1308.5" font-size="15.0" fill="#232323" font-weight="bold" textLength="76.4" lengthAdjust="spacingAndGlyphs" stroke="#232323" stroke-width="0.25">NORWAY : 0</text>
<text x="868.5" y="1308.5" font-size="15.0" fill="#8a8a8a" textLength="4.2" lengthAdjust="spacingAndGlyphs">/</text>
<text x="877.6" y="1308.5" font-size="15.0" fill="#cc2229" font-weight="bold" textLength="7.3" lengthAdjust="spacingAndGlyphs" stroke="#cc2229" stroke-width="0.25">1</text>
<path d="M777.9,1319.3 L782.7,1322.3 L777.9,1325.3" fill="none" stroke="#189bd7" stroke-width="1.7"/>
<text x="787.7" y="1327.8" font-size="15.0" fill="#232323" font-weight="bold" textLength="90.8" lengthAdjust="spacingAndGlyphs" stroke="#232323" stroke-width="0.25">ZIMBABWE : 0</text>
<text x="882.9" y="1327.8" font-size="15.0" fill="#8a8a8a" textLength="4.2" lengthAdjust="spacingAndGlyphs">/</text>
<text x="892.0" y="1327.8" font-size="15.0" fill="#cc2229" font-weight="bold" textLength="7.3" lengthAdjust="spacingAndGlyphs" stroke="#cc2229" stroke-width="0.25">1</text>
<defs><linearGradient id="vf" x1="0" y1="0" x2="0" y2="1"><stop offset="0" stop-color="#000"/><stop offset="0.25" stop-color="#fff"/><stop offset="0.75" stop-color="#fff"/><stop offset="1" stop-color="#000"/></linearGradient><mask id="vfade" maskUnits="userSpaceOnUse" x="0" y="1440" width="1000" height="140"><rect x="0" y="1452" width="1000" height="118" fill="url(#vf)"/></mask></defs>
<circle cx="145.4" cy="1497" r="46.3" fill="url(#ball)"/>
<text x="121.2" y="1529" font-size="87" font-weight="bold" font-style="italic" fill="#262626" stroke="#262626" stroke-width="2.6" stroke-linejoin="round" textLength="47.2" lengthAdjust="spacingAndGlyphs">0</text>
<circle cx="326" cy="1497" r="46.3" fill="url(#ball)"/>
<text x="305.8" y="1529" font-size="87" font-weight="bold" font-style="italic" fill="#262626" stroke="#262626" stroke-width="2.6" stroke-linejoin="round" textLength="43.3" lengthAdjust="spacingAndGlyphs">4</text>
<circle cx="530" cy="1497" r="46.3" fill="url(#ball)"/>
<text x="509.0" y="1529" font-size="87" font-weight="bold" font-style="italic" fill="#262626" stroke="#262626" stroke-width="2.6" stroke-linejoin="round" textLength="43.5" lengthAdjust="spacingAndGlyphs">3</text>
<circle cx="731" cy="1497" r="46.3" fill="url(#ball)"/>
<text x="707.6" y="1529" font-size="87" font-weight="bold" font-style="italic" fill="#262626" stroke="#262626" stroke-width="2.6" stroke-linejoin="round" textLength="44.6" lengthAdjust="spacingAndGlyphs">6</text>
<circle cx="896" cy="1497" r="46.3" fill="url(#ball)"/>
<text x="870.6" y="1529" font-size="87" font-weight="bold" font-style="italic" fill="#262626" stroke="#262626" stroke-width="2.6" stroke-linejoin="round" textLength="45.4" lengthAdjust="spacingAndGlyphs">6</text>
<polygon points="53.2,1518.7 89.3,1518.7 97.8,1526.7 97.8,1544.8 62.2,1544.8 67.7,1531.8" fill="#189bd7"/>
<polygon points="235.4,1518.7 197.1,1518.7 188.6,1526.7 188.6,1544.8 226.4,1544.8 220.9,1531.8" fill="#189bd7"/>
<polygon points="89.3,1518.7 89.5,1525.7 77.8,1525.7" fill="#0f78ad"/>
<polygon points="197.1,1518.7 196.9,1525.7 208.6,1525.7" fill="#0f78ad"/>
<polygon points="89.5,1525.7 196.9,1525.7 202.6,1551.5 83.8,1551.5" fill="#189bd7"/>
<text x="88.3" y="1544.9" font-size="16.6" fill="#fff" font-weight="bold" font-style="italic" textLength="111.5" lengthAdjust="spacingAndGlyphs" stroke="#fff" stroke-width="0.4">WORLD TEAMS</text>
<polygon points="248.5,1518.7 282.5,1518.7 291.0,1526.7 291.0,1544.8 257.5,1544.8 263.0,1531.8" fill="#189bd7"/>
<polygon points="405.0,1518.7 370.0,1518.7 361.5,1526.7 361.5,1544.8 396.0,1544.8 390.5,1531.8" fill="#189bd7"/>
<polygon points="282.5,1518.7 282.7,1525.7 271.0,1525.7" fill="#0f78ad"/>
<polygon points="370.0,1518.7 369.8,1525.7 381.5,1525.7" fill="#0f78ad"/>
<polygon points="282.7,1525.7 369.8,1525.7 375.5,1551.5 277.0,1551.5" fill="#189bd7"/>
<text x="282.8" y="1544.9" font-size="16.6" fill="#fff" font-weight="bold" font-style="italic" textLength="87.1" lengthAdjust="spacingAndGlyphs" stroke="#fff" stroke-width="0.4">PRO TEAMS</text>
<polygon points="419.0,1518.7 447.5,1518.7 456.0,1526.7 456.0,1544.8 428.0,1544.8 433.5,1531.8" fill="#189bd7"/>
<polygon points="639.0,1518.7 610.5,1518.7 602.0,1526.7 602.0,1544.8 630.0,1544.8 624.5,1531.8" fill="#189bd7"/>
<polygon points="447.5,1518.7 447.7,1525.7 436.0,1525.7" fill="#0f78ad"/>
<polygon points="610.5,1518.7 610.3,1525.7 622.0,1525.7" fill="#0f78ad"/>
<polygon points="447.7,1525.7 610.3,1525.7 616.0,1551.5 442.0,1551.5" fill="#189bd7"/>
<text x="448.8" y="1544.9" font-size="16.6" fill="#fff" font-weight="bold" font-style="italic" textLength="160.1" lengthAdjust="spacingAndGlyphs" stroke="#fff" stroke-width="0.4">CONTINENTAL TEAMS</text>
<polygon points="652.5,1518.7 681.5,1518.7 690.0,1526.7 690.0,1544.8 661.5,1544.8 667.0,1531.8" fill="#189bd7"/>
<polygon points="811.0,1518.7 781.5,1518.7 773.0,1526.7 773.0,1544.8 802.0,1544.8 796.5,1531.8" fill="#189bd7"/>
<polygon points="681.5,1518.7 681.7,1525.7 670.0,1525.7" fill="#0f78ad"/>
<polygon points="781.5,1518.7 781.3,1525.7 793.0,1525.7" fill="#0f78ad"/>
<polygon points="681.7,1525.7 781.3,1525.7 787.0,1551.5 676.0,1551.5" fill="#189bd7"/>
<text x="694.8" y="1544.9" font-size="16.6" fill="#fff" font-weight="bold" font-style="italic" textLength="76.6" lengthAdjust="spacingAndGlyphs" stroke="#fff" stroke-width="0.4">WOMEN’S</text>
<polygon points="824.0,1518.7 852.5,1518.7 861.0,1526.7 861.0,1544.8 833.0,1544.8 838.5,1531.8" fill="#189bd7"/>
<polygon points="970.0,1518.7 941.5,1518.7 933.0,1526.7 933.0,1544.8 961.0,1544.8 955.5,1531.8" fill="#189bd7"/>
<polygon points="852.5,1518.7 852.7,1525.7 841.0,1525.7" fill="#0f78ad"/>
<polygon points="941.5,1518.7 941.3,1525.7 953.0,1525.7" fill="#0f78ad"/>
<polygon points="852.7,1525.7 941.3,1525.7 947.0,1551.5 847.0,1551.5" fill="#189bd7"/>
<text x="867.3" y="1544.9" font-size="16.6" fill="#fff" font-weight="bold" font-style="italic" textLength="61.6" lengthAdjust="spacingAndGlyphs" stroke="#fff" stroke-width="0.4">OTHERS</text>
<rect x="240.5" y="1452" width="6" height="118" fill="url(#sepv)" mask="url(#vfade)"/>
<rect x="413" y="1452" width="6" height="118" fill="url(#sepv)" mask="url(#vfade)"/>
<rect x="645.5" y="1452" width="6" height="118" fill="url(#sepv)" mask="url(#vfade)"/>
<rect x="817.5" y="1452" width="6" height="118" fill="url(#sepv)" mask="url(#vfade)"/>
<defs><filter id="blur2" x="-20%" y="-100%" width="140%" height="300%"><feGaussianBlur stdDeviation="1.6"/></filter></defs>
<ellipse cx="575" cy="1769" rx="36" ry="1.8" fill="#000" opacity="0.3" filter="url(#blur2)"/>
<ellipse cx="623.2" cy="1686.2" rx="22.8" ry="22.8" fill="none" stroke="#232323" stroke-width="4.2"/>
<ellipse cx="572.2" cy="1746.6" rx="19.0" ry="19.0" fill="none" stroke="#232323" stroke-width="4.9"/>
<ellipse cx="572.2" cy="1746.6" rx="5.2" ry="5.2" fill="#232323"/>
<path d="M555.4,1746.6 L589.1,1746.6 M602.4,1686.2 L644.0,1686.2" stroke="#9a9a9a" stroke-width="0.35" fill="none"/>
<path d="M556.4,1740.8 L588.1,1752.4 M603.7,1679.0 L642.8,1693.3" stroke="#9a9a9a" stroke-width="0.35" fill="none"/>
<path d="M559.3,1735.7 L585.2,1757.5 M607.3,1672.8 L639.1,1699.5" stroke="#9a9a9a" stroke-width="0.35" fill="none"/>
<path d="M563.8,1732.0 L580.7,1761.2 M612.8,1668.1 L633.6,1704.2" stroke="#9a9a9a" stroke-width="0.35" fill="none"/>
<path d="M569.3,1730.0 L575.2,1763.2 M619.6,1665.7 L626.8,1706.6" stroke="#9a9a9a" stroke-width="0.35" fill="none"/>
<path d="M575.2,1730.0 L569.3,1763.2 M626.8,1665.7 L619.6,1706.6" stroke="#9a9a9a" stroke-width="0.35" fill="none"/>
<path d="M580.7,1732.0 L563.8,1761.2 M633.6,1668.1 L612.8,1704.2" stroke="#9a9a9a" stroke-width="0.35" fill="none"/>
<path d="M585.2,1735.7 L559.3,1757.5 M639.1,1672.8 L607.3,1699.5" stroke="#9a9a9a" stroke-width="0.35" fill="none"/>
<path d="M588.1,1740.8 L556.4,1752.4 M642.8,1679.0 L603.7,1693.3" stroke="#9a9a9a" stroke-width="0.35" fill="none"/>
<ellipse cx="572.2" cy="1746.6" rx="5.2" ry="5.2" fill="#232323"/>
<path d="M587.2,1677.7 L623.6,1686.8" fill="none" stroke="#232323" stroke-width="3.4" stroke-linecap="round" stroke-linejoin="round"/>
<ellipse cx="623.2" cy="1686.2" rx="3.4" ry="3.4" fill="#232323"/>
<path d="M578.4,1658.8 L587.2,1677.7 L591.4,1707.6" fill="none" stroke="#232323" stroke-width="3.4" stroke-linecap="round" stroke-linejoin="round"/>
<path d="M582.0,1681.6 L575.5,1701.1" fill="none" stroke="#232323" stroke-width="1.8" stroke-linecap="round" stroke-linejoin="round"/>
<path d="M579.4,1660.8 L591.1,1664.7 L600.2,1675.1" fill="none" stroke="#232323" stroke-width="0.5" stroke-linecap="round" stroke-linejoin="round"/>
<path d="M555.4,1643.9 C558.6,1644.1 559.2,1644.7 560.9,1647.8 C562.7,1650.9 562.1,1651.2 561.2,1654.3 C560.3,1657.4 560.5,1657.0 558.0,1658.2 C555.4,1659.4 555.3,1659.6 552.8,1658.2 C550.2,1656.8 550.3,1657.0 549.5,1653.7 C548.7,1650.3 548.4,1650.1 550.1,1647.2 C551.9,1644.2 552.1,1643.7 555.4,1643.9 Z" fill="#232323"/>
<path d="M551.5,1658.2 C555.6,1657.5 557.3,1656.1 559.9,1658.2 C562.5,1660.3 560.6,1660.5 561.2,1666.0 C561.8,1671.5 561.6,1672.1 562.0,1679.0 C562.4,1685.9 562.9,1685.1 562.8,1692.0 C562.6,1698.9 563.3,1699.9 561.5,1705.0 C559.7,1710.1 559.5,1708.8 556.0,1711.0 C552.5,1713.1 552.0,1713.9 548.2,1713.1 C544.4,1712.2 544.5,1711.3 541.7,1707.9 C538.9,1704.4 538.5,1705.0 537.8,1700.1 C537.1,1695.1 538.2,1695.7 539.1,1689.4 C540.0,1683.1 540.4,1682.6 541.0,1676.4 C541.7,1670.2 540.8,1670.2 541.7,1666.0 C542.6,1661.8 541.7,1662.9 544.3,1660.8 C546.9,1658.7 547.3,1658.9 551.5,1658.2 Z" fill="#232323"/>
<path d="M559.9,1659.5 C561.4,1657.0 565.0,1656.1 569.0,1655.3 C573.0,1654.6 574.9,1655.3 577.1,1656.2 C579.2,1657.2 579.9,1658.4 578.4,1659.5 C576.8,1660.6 574.0,1659.5 570.3,1661.1 C566.6,1662.6 564.9,1666.4 562.5,1666.0 C560.1,1665.6 558.4,1662.0 559.9,1659.5 Z" fill="#232323"/>
<path d="M561.2,1668.6 C563.9,1669.1 568.0,1678.0 572.9,1680.0 C577.8,1682.1 579.2,1677.1 582.0,1677.4 C584.8,1677.8 586.6,1679.4 584.9,1681.6 C583.1,1683.8 580.0,1687.9 574.5,1687.1 C568.9,1686.2 564.3,1682.3 561.2,1678.0 C558.1,1673.7 558.5,1668.1 561.2,1668.6 Z" fill="#232323"/>
<path d="M561.2,1685.5 C563.0,1681.9 564.1,1687.5 569.0,1692.0 C573.9,1696.5 575.9,1700.8 582.0,1705.0 C588.1,1709.2 591.3,1709.7 595.0,1710.2 C598.7,1710.7 597.4,1705.5 597.9,1707.3 C598.3,1709.2 597.7,1713.1 597.1,1718.0 C596.5,1722.9 596.6,1724.5 595.3,1728.4 C593.9,1732.3 593.8,1732.4 591.4,1734.9 C588.9,1737.4 587.6,1740.0 584.6,1739.1 C581.6,1738.1 580.8,1735.3 578.4,1731.0 C575.9,1726.7 576.4,1724.8 574.2,1720.6 C572.0,1716.4 572.0,1715.8 569.0,1712.8 C566.0,1709.8 563.0,1714.0 561.2,1707.6 C559.4,1701.2 559.4,1689.1 561.2,1685.5 Z" fill="#232323"/>
<path d="M562.5,1701.1 C565.2,1701.7 567.7,1707.6 572.9,1712.8 C578.1,1718.0 581.3,1718.3 584.6,1723.2 C587.9,1728.1 587.8,1730.0 587.2,1733.6 C586.6,1737.2 585.3,1740.6 582.0,1738.8 C578.7,1737.0 577.8,1732.5 572.9,1725.8 C568.0,1719.1 563.6,1716.0 561.2,1710.2 C558.8,1704.4 559.8,1700.5 562.5,1701.1 Z" fill="#232323"/>
<use href="#b1" transform="translate(3,4.5)" fill="#bfe3f4" stroke="#bfe3f4" stroke-width="2"/>
<g fill="#189bd7" stroke="#189bd7" stroke-width="2"><text id="b1" x="83.0" y="1720.5" font-size="110" font-weight="bold" font-style="italic" textLength="100.4" lengthAdjust="spacingAndGlyphs">12</text></g>
<text x="189.0" y="1673.7" font-size="29.4" font-weight="bold" fill="#189bd7" stroke="#189bd7" stroke-width="0.7" textLength="100.8" lengthAdjust="spacingAndGlyphs">CASES</text>
<text x="212.8" y="1696.1" font-size="23.1" font-weight="bold" fill="#189bd7" stroke="#189bd7" stroke-width="0.7" textLength="42.0" lengthAdjust="spacingAndGlyphs">ON</text>
<text x="189.6" y="1721.3" font-size="27.3" font-weight="bold" fill="#262626" stroke="#262626" stroke-width="0.7" textLength="83.4" lengthAdjust="spacingAndGlyphs">ROAD</text>
<use href="#b2" transform="translate(3,4.5)" fill="#bfe3f4" stroke="#bfe3f4" stroke-width="2"/>
<g fill="#189bd7" stroke="#189bd7" stroke-width="2"><text id="b2" x="368.5" y="1720.5" font-size="110" font-weight="bold" font-style="italic" textLength="46.0" lengthAdjust="spacingAndGlyphs">4</text></g>
<text x="419.0" y="1673.5" font-size="29.4" font-weight="bold" fill="#189bd7" stroke="#189bd7" stroke-width="0.7" textLength="81.0" lengthAdjust="spacingAndGlyphs">CASE</text>
<text x="441.8" y="1695.7" font-size="23.1" font-weight="bold" fill="#189bd7" stroke="#189bd7" stroke-width="0.7" textLength="41.9" lengthAdjust="spacingAndGlyphs">ON</text>
<text x="419.7" y="1721.5" font-size="27.3" font-weight="bold" fill="#262626" stroke="#262626" stroke-width="0.7" textLength="93.5" lengthAdjust="spacingAndGlyphs">TRACK</text>
<use href="#b3" transform="translate(3,4.5)" fill="#bfe3f4" stroke="#bfe3f4" stroke-width="2"/>
<g fill="#189bd7" stroke="#189bd7" stroke-width="2"><text id="b3" x="611.2" y="1720.5" font-size="110" font-weight="bold" font-style="italic" textLength="48.0" lengthAdjust="spacingAndGlyphs">1</text></g>
<text x="656.2" y="1673.5" font-size="29.4" font-weight="bold" fill="#189bd7" stroke="#189bd7" stroke-width="0.7" textLength="81.7" lengthAdjust="spacingAndGlyphs">CASE</text>
<text x="679.5" y="1695.7" font-size="23.1" font-weight="bold" fill="#189bd7" stroke="#189bd7" stroke-width="0.7" textLength="42.1" lengthAdjust="spacingAndGlyphs">ON</text>
<text x="664.1" y="1722.8" font-size="28.8" font-weight="bold" fill="#262626" stroke="#262626" stroke-width="0.7" textLength="69.5" lengthAdjust="spacingAndGlyphs">MTB</text>
<use href="#b4" transform="translate(3,4.5)" fill="#bfe3f4" stroke="#bfe3f4" stroke-width="2"/>
<g fill="#189bd7" stroke="#189bd7" stroke-width="2"><text id="b4" x="813.5" y="1720.5" font-size="110" font-weight="bold" font-style="italic" textLength="50.5" lengthAdjust="spacingAndGlyphs">2</text></g>
<text x="862.9" y="1691.5" font-size="28.3" font-weight="bold" fill="#262626" stroke="#262626" stroke-width="0.7" textLength="113.9" lengthAdjust="spacingAndGlyphs">OTHERS</text>
<text x="862.9" y="1716.7" font-size="29.4" font-weight="bold" fill="#189bd7" stroke="#189bd7" stroke-width="0.7" textLength="100.7" lengthAdjust="spacingAndGlyphs">CASES</text>
<rect x="200" y="1802" width="600" height="14" fill="url(#seph)"/>
<rect x="200" y="1802" width="600" height="14" fill="url(#fadex)"/>
<use href="#b5" transform="translate(3,4.5)" fill="#bfe3f4" stroke="#bfe3f4" stroke-width="2"/>
<g fill="#189bd7" stroke="#189bd7" stroke-width="2"><text id="b5" x="342.0" y="1939.0" font-size="110" font-weight="bold" font-style="italic" textLength="103.4" lengthAdjust="spacingAndGlyphs">13</text></g>
<use href="#b6" transform="translate(3,4.5)" fill="#bfe3f4" stroke="#bfe3f4" stroke-width="2"/>
<g fill="#189bd7" stroke="#189bd7" stroke-width="2"><text id="b6" x="639.7" y="1939.0" font-size="110" font-weight="bold" font-style="italic" textLength="56.9" lengthAdjust="spacingAndGlyphs">6</text></g>
<circle cx="467.2" cy="1874.2" r="25.2" fill="none" stroke="#262626" stroke-width="8.4"/>
<path d="M485.5,1856 L509,1832.5" stroke="#262626" stroke-width="8.4" fill="none"/>
<path d="M473.4,1832.2 H509.2 V1867.8" stroke="#262626" stroke-width="8.4" fill="none"/>
<circle cx="721.5" cy="1888.2" r="24.8" fill="none" stroke="#262626" stroke-width="8.4"/>
<path d="M721.5,1916 V1942.8 M706.6,1928.8 H736" stroke="#262626" stroke-width="8.4" fill="none"/>
<polygon points="32.0,1775.0 110.0,1757.0 110.0,1760.0 40.0,1777.0" fill="#000" opacity="0.22" filter="url(#blur2)"/>
<ellipse cx="52.5" cy="1744.0" rx="12.2" ry="24.8" fill="none" stroke="#232323" stroke-width="3.8" transform="rotate(3 52.5 1744.0)"/>
<ellipse cx="88.2" cy="1739.0" rx="9.5" ry="22.5" fill="none" stroke="#232323" stroke-width="3.4" transform="rotate(-3 88.2 1739.0)"/>
<path d="M57.5,1717.0 L50.0,1744.0 L54.5,1744.0 L59.5,1720.0" fill="none" stroke="#232323" stroke-width="1.0" stroke-linecap="round" stroke-linejoin="round"/>
<path d="M72.0,1712.0 L76.0,1745.0" fill="none" stroke="#232323" stroke-width="3.4" stroke-linecap="round" stroke-linejoin="round"/>
<path d="M75.5,1744.0 L94.0,1737.5" fill="none" stroke="#232323" stroke-width="1.4" stroke-linecap="round" stroke-linejoin="round"/>
<path d="M80.0,1728.0 L93.5,1737.5" fill="none" stroke="#232323" stroke-width="1.0" stroke-linecap="round" stroke-linejoin="round"/>
<ellipse cx="71.2" cy="1749.0" rx="3.2" ry="3.6" fill="none" stroke="#232323" stroke-width="1.0"/>
<path d="M47.0,1653.0 C50.8,1653.3 51.5,1653.5 54.0,1656.0 C56.5,1658.5 56.1,1658.0 55.5,1661.5 C54.9,1665.0 55.1,1665.2 52.0,1667.5 C48.9,1669.8 48.8,1669.6 45.0,1669.0 C41.2,1668.4 41.6,1668.2 39.5,1665.5 C37.4,1662.8 37.4,1663.2 38.0,1660.0 C38.6,1656.8 38.8,1657.1 41.5,1655.0 C44.2,1652.9 43.2,1652.7 47.0,1653.0 Z" fill="#232323"/>
<path d="M54.0,1665.0 C58.0,1664.5 59.7,1664.1 65.0,1664.5 C70.3,1664.9 69.5,1664.5 74.0,1666.5 C78.5,1668.5 78.5,1668.4 82.0,1672.0 C85.5,1675.6 85.1,1675.7 87.0,1680.0 C88.9,1684.3 88.5,1683.7 89.0,1688.0 C89.5,1692.3 89.3,1691.7 89.0,1696.0 C88.7,1700.3 88.5,1699.7 88.0,1704.0 C87.5,1708.3 86.9,1707.7 87.2,1712.0 C87.5,1716.3 88.0,1715.2 89.0,1720.0 C90.0,1724.8 90.3,1724.7 91.0,1730.0 C91.7,1735.3 91.2,1734.7 91.5,1740.0 C91.8,1745.3 92.6,1746.0 92.2,1750.0 C91.8,1754.0 91.9,1753.1 90.0,1755.0 C88.1,1756.9 87.1,1757.8 85.0,1757.0 C82.9,1756.2 82.5,1755.2 82.2,1752.0 C81.9,1748.8 84.1,1749.5 84.0,1745.0 C83.9,1740.5 83.3,1740.3 82.0,1735.0 C80.7,1729.7 80.2,1730.1 79.0,1725.0 C77.8,1719.9 78.2,1720.5 77.5,1716.0 C76.8,1711.5 76.8,1712.7 76.2,1708.0 C75.6,1703.3 76.2,1700.6 75.2,1698.5 C74.2,1696.4 74.1,1697.5 72.5,1700.0 C70.9,1702.5 70.6,1704.5 69.2,1708.0 C67.8,1711.5 67.0,1710.1 67.2,1713.0 C67.4,1715.9 68.7,1715.5 70.0,1719.0 C71.3,1722.5 72.2,1723.3 72.2,1726.0 C72.2,1728.7 72.2,1728.9 70.0,1729.2 C67.8,1729.5 66.7,1729.7 64.0,1727.2 C61.3,1724.7 61.9,1723.5 60.0,1720.0 C58.1,1716.5 58.9,1717.2 57.0,1714.0 C55.1,1710.8 54.6,1711.7 53.0,1708.0 C51.4,1704.3 51.0,1703.7 51.0,1700.0 C51.0,1696.3 51.1,1697.2 53.0,1694.0 C54.9,1690.8 55.1,1690.3 58.0,1688.0 C60.9,1685.7 66.1,1686.9 64.0,1685.2 C61.9,1683.5 54.2,1681.1 50.0,1681.8 C45.8,1682.5 49.3,1683.7 48.2,1688.0 C47.1,1692.3 46.5,1693.7 45.7,1698.0 C44.9,1702.3 46.4,1701.8 45.2,1704.0 C44.0,1706.2 42.9,1706.2 41.2,1706.2 C39.5,1706.2 39.3,1705.9 39.0,1704.0 C38.7,1702.1 39.3,1702.7 40.0,1699.0 C40.7,1695.3 41.0,1695.1 41.5,1690.0 C42.0,1684.9 41.6,1684.5 42.0,1680.0 C42.4,1675.5 42.0,1676.1 43.0,1673.0 C44.0,1669.9 43.9,1670.3 45.8,1668.5 C47.7,1666.7 47.8,1667.1 50.0,1666.2 C52.2,1665.3 50.0,1665.5 54.0,1665.0 Z" fill="#232323"/>
<path d="M30.0,1702.0 C30.7,1701.0 30.5,1703.7 34.0,1704.0 C37.5,1704.3 40.5,1703.3 45.0,1703.5 C49.5,1703.7 51.5,1704.1 53.5,1705.0 C55.5,1705.9 56.1,1706.5 53.5,1707.2 C50.9,1707.9 45.5,1706.1 42.2,1708.2 C38.9,1710.3 40.9,1714.1 39.2,1716.2 C37.5,1718.3 36.7,1717.7 35.0,1717.2 C33.3,1716.7 32.9,1716.3 32.0,1714.2 C31.1,1712.1 31.5,1711.0 31.0,1708.2 C30.5,1705.4 29.3,1703.0 30.0,1702.0 Z" fill="#232323"/>
<polygon points="314.5,1773.7 393.8,1752.9 393.8,1756.8 323.6,1775.0" fill="#000" opacity="0.22" filter="url(#blur2)"/>
<ellipse cx="323.9" cy="1745.1" rx="15.6" ry="22.4" fill="none" stroke="#232323" stroke-width="5.2" transform="rotate(8 323.9 1745.1)"/>
<ellipse cx="373.0" cy="1734.0" rx="16.2" ry="22.4" fill="#232323" transform="rotate(8 373.0 1734.0)"/>
<path d="M330.4,1723.0 L321.6,1745.1 L326.9,1745.4 L334.0,1725.6" fill="none" stroke="#232323" stroke-width="1.2" stroke-linecap="round" stroke-linejoin="round"/>
<path d="M334.0,1711.3 L357.4,1713.9" fill="none" stroke="#232323" stroke-width="3.9" stroke-linecap="round" stroke-linejoin="round"/>
<path d="M334.0,1717.8 L350.9,1743.8" fill="none" stroke="#232323" stroke-width="3.9" stroke-linecap="round" stroke-linejoin="round"/>
<path d="M344.4,1745.8 L356.1,1736.0" fill="none" stroke="#232323" stroke-width="3.4" stroke-linecap="round" stroke-linejoin="round"/>
<path d="M316.4,1669.7 C316.8,1666.9 316.4,1666.1 319.1,1663.2 C321.7,1660.3 321.2,1660.0 326.2,1658.7 C331.2,1657.3 332.6,1657.3 337.9,1658.0 C343.2,1658.7 344.9,1659.4 346.0,1661.2 C347.0,1663.1 345.0,1662.2 341.8,1664.8 C338.6,1667.4 337.4,1667.6 334.0,1671.0 C330.6,1674.4 332.5,1675.9 329.1,1677.5 C325.6,1679.1 324.0,1678.0 321.0,1677.0 C318.0,1675.9 319.0,1675.5 317.8,1673.6 C316.5,1671.7 316.1,1672.5 316.4,1669.7 Z" fill="#232323"/>
<path d="M334.0,1667.1 C338.8,1663.6 340.8,1664.5 347.0,1664.5 C353.2,1664.5 352.2,1664.7 357.4,1667.1 C362.6,1669.5 362.8,1669.4 366.5,1673.6 C370.2,1677.8 370.1,1677.2 371.2,1682.7 C372.3,1688.2 372.1,1688.9 370.7,1694.4 C369.2,1699.9 367.8,1698.6 365.9,1703.5 C363.9,1708.4 365.5,1708.7 363.2,1712.6 C361.0,1716.5 361.0,1717.3 357.4,1718.1 C353.8,1718.8 353.1,1718.2 349.6,1715.5 C346.1,1712.7 346.8,1711.5 344.4,1707.7 C342.0,1703.8 341.5,1703.9 340.5,1701.2 C339.5,1698.4 340.9,1702.0 340.8,1697.3 C340.6,1692.5 342.3,1687.4 340.0,1683.5 C337.7,1679.6 335.0,1684.3 332.1,1682.7 C329.1,1681.1 328.5,1681.7 329.1,1677.5 C329.6,1673.3 329.2,1670.6 334.0,1667.1 Z" fill="#232323"/>
<path d="M322.3,1676.2 C323.5,1673.8 328.3,1675.7 330.8,1677.5 C333.2,1679.3 332.1,1678.8 332.7,1684.0 C333.3,1689.2 334.6,1695.3 333.5,1699.6 C332.3,1703.9 329.6,1705.2 327.8,1702.5 C325.9,1699.7 327.0,1694.0 325.7,1687.9 C324.4,1681.8 321.1,1678.6 322.3,1676.2 Z" fill="#232323"/>
<path d="M311.9,1703.5 C316.9,1702.0 321.4,1700.2 327.5,1699.6 C333.6,1699.0 335.1,1699.4 337.9,1700.9 C340.7,1702.4 341.9,1704.5 339.5,1706.1 C337.0,1707.7 332.7,1706.9 327.5,1707.7 C322.3,1708.4 321.7,1709.2 317.1,1709.5 C312.6,1709.8 310.6,1709.7 308.0,1709.0 C305.4,1708.2 305.1,1707.4 306.1,1706.1 C307.0,1704.8 306.9,1705.0 311.9,1703.5 Z" fill="#232323"/>
<path d="M337.9,1702.2 C342.1,1700.5 344.7,1701.9 349.6,1706.1 C354.5,1710.3 354.0,1711.9 356.1,1717.8 C358.2,1723.7 357.6,1723.3 357.7,1728.2 C357.7,1733.1 358.1,1731.8 356.4,1736.0 C354.6,1740.2 354.3,1741.0 351.2,1743.8 C348.0,1746.6 347.2,1747.3 344.7,1746.7 C342.2,1746.0 340.5,1744.6 341.8,1741.5 C343.1,1738.3 347.9,1738.9 349.6,1734.7 C351.3,1730.5 350.4,1730.1 348.3,1725.6 C346.2,1721.1 345.6,1721.3 341.8,1717.8 C338.0,1714.3 335.0,1716.8 334.0,1712.6 C333.0,1708.4 333.7,1703.9 337.9,1702.2 Z" fill="#232323"/>
<polygon points="755.0,1751.8 822.6,1763.5 820.0,1766.8 755.0,1755.0" fill="#000" opacity="0.22" filter="url(#blur2)"/>
<ellipse cx="770.0" cy="1731.0" rx="9.1" ry="23.4" fill="none" stroke="#232323" stroke-width="4.3" transform="rotate(-3 770.0 1731.0)"/>
<ellipse cx="805.7" cy="1736.8" rx="11.4" ry="24.4" fill="none" stroke="#232323" stroke-width="4.9" transform="rotate(-3 805.7 1736.8)"/>
<path d="M783.0,1702.4 L785.2,1738.8" fill="none" stroke="#232323" stroke-width="3.9" stroke-linecap="round" stroke-linejoin="round"/>
<path d="M797.9,1712.8 L785.2,1740.1" fill="none" stroke="#232323" stroke-width="3.4" stroke-linecap="round" stroke-linejoin="round"/>
<path d="M800.8,1718.0 L800.5,1737.5 L808.3,1736.8 L806.4,1718.0" fill="none" stroke="#232323" stroke-width="1.2" stroke-linecap="round" stroke-linejoin="round"/>
<path d="M765.4,1729.7 L785.2,1739.5" fill="none" stroke="#232323" stroke-width="1.6" stroke-linecap="round" stroke-linejoin="round"/>
<ellipse cx="786.2" cy="1740.8" rx="3.6" ry="4.2" fill="none" stroke="#232323" stroke-width="1.3"/>
<path d="M810.9,1645.2 C815.4,1645.2 816.0,1645.6 818.7,1649.1 C821.4,1652.6 821.1,1652.7 820.0,1656.9 C818.9,1661.1 819.0,1661.4 815.1,1663.1 C811.2,1664.9 810.8,1664.6 807.0,1662.8 C803.2,1660.9 803.4,1661.0 802.5,1656.9 C801.5,1652.8 801.2,1652.6 803.8,1649.1 C806.3,1645.6 806.4,1645.2 810.9,1645.2 Z" fill="#232323"/>
<path d="M803.1,1659.5 C809.0,1660.4 812.2,1658.9 816.1,1662.8 C820.0,1666.6 816.9,1667.7 817.7,1673.8 C818.4,1679.9 818.3,1679.3 819.0,1685.5 C819.7,1691.7 818.6,1694.4 820.3,1697.2 C821.9,1700.0 823.1,1694.9 825.2,1695.9 C827.3,1696.9 828.0,1697.9 828.1,1701.1 C828.1,1704.3 827.6,1705.4 825.5,1707.9 C823.3,1710.4 822.5,1711.8 820.0,1710.5 C817.5,1709.1 818.2,1707.6 816.1,1702.7 C814.0,1697.7 813.9,1697.9 812.2,1692.0 C810.5,1686.1 814.5,1684.0 809.6,1680.6 C804.7,1677.1 795.7,1678.3 794.0,1679.0 C792.3,1679.7 799.6,1679.7 803.1,1683.2 C806.6,1686.6 806.8,1687.2 807.3,1692.0 C807.7,1696.8 807.1,1696.9 804.7,1701.1 C802.2,1705.3 801.0,1704.0 798.2,1707.9 C795.3,1711.7 796.4,1711.2 794.0,1715.4 C791.6,1719.6 791.1,1722.1 789.1,1723.5 C787.0,1724.8 786.3,1724.8 786.2,1720.6 C786.1,1716.4 788.8,1713.8 788.8,1707.6 C788.8,1701.4 787.6,1701.4 786.2,1697.2 C784.8,1693.0 785.0,1689.9 783.6,1692.0 C782.2,1694.1 782.0,1698.1 781.0,1705.0 C780.0,1711.9 780.3,1711.1 779.7,1718.0 C779.1,1724.9 780.0,1724.8 778.7,1731.0 C777.3,1737.2 776.5,1736.8 774.8,1741.4 C773.0,1746.0 774.0,1746.0 772.2,1748.2 C770.4,1750.3 769.3,1751.3 768.0,1749.5 C766.7,1747.7 766.5,1746.3 767.2,1741.4 C767.9,1736.5 769.9,1737.2 770.6,1731.0 C771.3,1724.8 770.3,1726.7 770.0,1718.0 C769.6,1709.3 769.5,1708.2 769.3,1698.5 C769.1,1688.8 767.9,1689.2 769.3,1681.6 C770.7,1674.0 770.3,1675.1 774.5,1669.9 C778.7,1664.7 779.7,1664.9 784.9,1662.1 C790.1,1659.3 789.1,1660.2 794.0,1659.5 C798.9,1658.8 797.2,1658.6 803.1,1659.5 Z" fill="#232323"/>
<ellipse cx="302" cy="1981" rx="17" ry="2.6" fill="#000" opacity="0.38" filter="url(#blur2)" transform="rotate(10 302 1981)"/>
<path d="M308.2,1847.6 C312.3,1847.1 312.6,1847.3 316.2,1850.4 C319.8,1853.5 317.8,1853.9 321.0,1858.4 C324.2,1862.9 324.5,1861.0 327.4,1866.4 C330.3,1871.8 329.8,1871.0 331.4,1877.6 C333.0,1884.2 333.1,1883.0 333.2,1889.6 C333.2,1896.2 332.5,1896.5 331.6,1900.8 C330.7,1905.1 329.9,1902.8 330.0,1904.8 C330.1,1906.8 332.1,1905.8 331.9,1908.0 C331.7,1910.2 331.1,1911.3 329.2,1912.5 C327.2,1913.6 326.8,1911.0 325.0,1912.0 C323.2,1913.0 323.2,1911.5 322.8,1916.0 C322.4,1920.5 324.0,1921.2 323.6,1928.0 C323.1,1934.8 322.1,1934.3 321.2,1940.0 C320.3,1945.7 319.9,1942.3 320.4,1948.0 C320.8,1953.7 321.6,1953.4 322.8,1960.0 C323.9,1966.6 324.0,1965.8 324.4,1971.2 C324.7,1976.6 324.8,1975.6 323.9,1979.2 C322.9,1982.8 322.7,1983.5 321.0,1984.0 C319.3,1984.5 319.8,1985.5 317.8,1981.0 C315.8,1976.4 315.3,1975.1 313.8,1968.0 C312.3,1960.9 313.4,1958.7 312.4,1956.0 C311.3,1953.3 311.5,1955.9 310.0,1958.4 C308.4,1960.9 307.4,1959.8 306.8,1964.8 C306.1,1969.8 308.1,1971.4 307.6,1976.0 C307.1,1980.6 306.9,1981.0 305.0,1981.0 C303.1,1981.0 303.3,1981.9 301.0,1976.0 C298.7,1970.1 299.0,1968.6 297.0,1960.0 C295.0,1951.4 296.1,1950.6 293.8,1945.6 C291.5,1940.6 290.8,1947.4 289.0,1942.4 C287.2,1937.4 288.8,1935.5 287.4,1928.0 C286.0,1920.5 286.0,1922.8 284.2,1916.0 C282.4,1909.2 282.5,1911.0 281.0,1904.0 C279.5,1897.0 278.8,1898.5 279.0,1891.2 C279.2,1883.9 279.6,1885.4 281.8,1878.4 C284.0,1871.4 283.0,1872.5 286.6,1866.4 C290.2,1860.3 290.3,1860.9 294.6,1856.8 C298.9,1852.7 297.9,1854.6 301.8,1852.0 C305.7,1849.4 304.1,1848.1 308.2,1847.6 Z" fill="#232323"/>
<polygon points="305.0,1889.6 309.2,1890.0 309.5,1900.2 306.6,1899.6 302.6,1900.8 300.2,1901.2" fill="#ffffff"/>
<polygon points="307.0,1904.0 310.0,1905.2 314.0,1924.0 311.8,1926.8 308.8,1920.0" fill="#ffffff"/>
<polygon points="297.0,1906.4 302.4,1903.4 302.6,1909.0 298.0,1911.4" fill="#ffffff"/>
<polygon points="294.0,1916.8 296.4,1917.8 294.8,1925.6 293.0,1926.6" fill="#ffffff"/>
<polygon points="310.8,1929.6 313.2,1932.0 314.0,1952.0 312.4,1953.6" fill="#ffffff"/>
<polygon points="296.4,1946.4 298.6,1945.0 302.6,1964.8 305.0,1971.2 302.9,1973.0 298.8,1958.4" fill="#ffffff"/>
<polygon points="300.2,1912.0 303.0,1911.2 305.0,1920.8 303.4,1927.2 302.0,1920.0" fill="#ffffff"/>
<polygon points="317.0,1972.8 321.0,1972.4 320.2,1979.2 318.8,1978.4" fill="#ffffff"/>
<ellipse cx="612" cy="1968.5" rx="26" ry="1.8" fill="#000" opacity="0.35" filter="url(#blur2)"/>
<ellipse cx="583.8" cy="1945.8" rx="19.6" ry="23.4" fill="none" stroke="#232323" stroke-width="5.4"/>
<ellipse cx="645.6" cy="1941.8" rx="17.2" ry="22.3" fill="none" stroke="#232323" stroke-width="5.4"/>
<path d="M594.6,1912.0 L631.8,1914.6" fill="none" stroke="#232323" stroke-width="2.6" stroke-linecap="round" stroke-linejoin="round"/>
<path d="M637.8,1896.4 L631.8,1914.6" fill="none" stroke="#232323" stroke-width="2.2" stroke-linecap="round" stroke-linejoin="round"/>
<path d="M631.8,1895.9 L647.4,1896.4" fill="none" stroke="#232323" stroke-width="2.6" stroke-linecap="round" stroke-linejoin="round"/>
<path d="M633.0,1914.6 L618.6,1948.0" fill="none" stroke="#232323" stroke-width="2.2" stroke-linecap="round" stroke-linejoin="round"/>
<path d="M595.8,1914.6 L617.4,1948.0" fill="none" stroke="#232323" stroke-width="2.9" stroke-linecap="round" stroke-linejoin="round"/>
<path d="M618.6,1948.0 L645.2,1942.0" fill="none" stroke="#232323" stroke-width="1.9" stroke-linecap="round" stroke-linejoin="round"/>
<path d="M633.6,1914.6 L645.6,1942.0" fill="none" stroke="#232323" stroke-width="1.4" stroke-linecap="round" stroke-linejoin="round"/>
<path d="M593.6,1914.6 L582.0,1946.2 L586.4,1946.6 L597.2,1916.8" fill="none" stroke="#232323" stroke-width="1.1" stroke-linecap="round" stroke-linejoin="round"/>
<path d="M574.2,1901.4 L593.4,1905.0" fill="none" stroke="#232323" stroke-width="2.6" stroke-linecap="round" stroke-linejoin="round"/>
<path d="M577.2,1902.4 L578.4,1910.8 L585.0,1912.0" fill="none" stroke="#232323" stroke-width="1.7" stroke-linecap="round" stroke-linejoin="round"/>
<ellipse cx="617.4" cy="1948.0" rx="4.6" ry="5.0" fill="none" stroke="#232323" stroke-width="1.7"/>
<path d="M594.6,1907.2 L596.4,1916.8" fill="none" stroke="#232323" stroke-width="4.8" stroke-linecap="round" stroke-linejoin="round"/>
<path d="M587.4,1849.6 C591.5,1849.2 591.7,1849.6 594.6,1853.2 C597.5,1856.8 597.0,1856.6 597.0,1861.6 C597.0,1866.6 597.1,1866.2 594.6,1870.0 C592.1,1873.8 592.2,1873.8 588.6,1874.2 C585.0,1874.6 585.5,1874.6 582.6,1871.2 C579.7,1867.8 579.5,1867.8 579.0,1862.8 C578.5,1857.8 578.3,1858.4 580.8,1854.4 C583.3,1850.4 583.3,1850.0 587.4,1849.6 Z" fill="#232323"/>
<path d="M595.8,1850.8 C597.3,1849.5 600.4,1850.1 603.0,1852.0 C605.6,1853.9 606.2,1855.7 605.6,1858.0 C605.1,1860.3 603.1,1861.0 600.8,1860.6 C598.6,1860.3 598.6,1859.4 597.2,1856.8 C595.9,1854.2 594.3,1852.1 595.8,1850.8 Z" fill="#232323"/>
<path d="M591.0,1870.0 C591.3,1865.8 592.0,1866.6 595.8,1864.0 C599.6,1861.4 599.6,1860.4 605.4,1860.4 C611.2,1860.4 611.0,1861.4 617.4,1864.0 C623.8,1866.6 624.5,1866.8 629.4,1870.0 C634.3,1873.2 633.7,1871.8 635.6,1876.0 C637.6,1880.2 637.8,1880.8 636.8,1885.6 C635.9,1890.4 634.7,1889.5 632.0,1894.0 C629.4,1898.5 629.6,1897.8 627.0,1902.6 C624.4,1907.4 624.4,1907.8 622.4,1912.0 C620.5,1916.2 621.8,1917.0 619.8,1918.2 C617.8,1919.5 616.6,1919.7 615.0,1916.8 C613.4,1913.9 613.8,1911.7 613.8,1907.2 C613.8,1902.7 615.6,1904.2 615.0,1900.0 C614.4,1895.8 613.3,1895.8 611.4,1891.6 C609.5,1887.4 610.7,1887.0 607.8,1884.4 C604.9,1881.8 604.1,1883.3 600.6,1882.0 C597.1,1880.7 597.2,1882.8 594.6,1879.6 C592.0,1876.4 590.7,1874.2 591.0,1870.0 Z" fill="#232323"/>
<path d="M589.8,1872.4 C592.1,1870.4 595.8,1875.4 596.0,1879.6 C596.3,1883.8 593.9,1885.9 591.0,1890.4 C588.1,1894.9 586.6,1895.9 583.8,1898.8 C581.0,1901.7 581.2,1901.5 579.0,1902.6 C576.8,1903.8 575.6,1904.5 574.2,1903.8 C572.8,1903.2 571.6,1901.7 573.0,1900.0 C574.4,1898.3 577.1,1899.2 580.2,1896.4 C583.3,1893.6 584.0,1893.6 586.2,1888.0 C588.4,1882.4 587.5,1874.4 589.8,1872.4 Z" fill="#232323"/>
<path d="M607.8,1888.0 C611.2,1888.6 616.5,1895.5 617.6,1900.0 C618.8,1904.5 615.1,1903.8 612.8,1907.2 C610.6,1910.6 608.4,1910.5 608.0,1914.4 C607.7,1918.3 609.7,1919.8 611.4,1924.0 C613.1,1928.2 614.1,1928.8 615.2,1932.4 C616.4,1936.0 617.3,1936.7 616.4,1939.6 C615.6,1942.5 614.8,1942.9 611.6,1944.6 C608.5,1946.4 605.9,1947.1 603.0,1947.0 C600.1,1947.0 598.6,1946.4 599.4,1944.4 C600.2,1942.4 605.2,1942.6 606.6,1938.4 C608.0,1934.2 607.1,1931.4 605.4,1926.4 C603.7,1921.4 601.4,1921.0 599.4,1916.8 C597.4,1912.6 596.2,1912.9 597.0,1908.4 C597.8,1903.9 600.5,1902.4 603.0,1897.6 C605.5,1892.8 604.4,1887.4 607.8,1888.0 Z" fill="#232323"/>
<path d="M615.0,1902.4 C617.5,1899.0 624.4,1900.2 627.0,1902.4 C629.6,1904.6 625.4,1907.5 626.0,1912.0 C626.7,1916.5 627.1,1916.6 629.6,1921.6 C632.2,1926.6 634.0,1928.6 636.8,1933.6 C639.6,1938.6 641.1,1939.5 641.6,1943.2 C642.2,1946.9 641.3,1948.8 639.2,1949.4 C637.2,1950.1 635.6,1949.0 633.0,1945.8 C630.4,1942.7 630.7,1941.1 628.2,1936.0 C625.7,1930.9 625.0,1928.5 622.2,1924.0 C619.4,1919.5 617.9,1921.8 616.2,1916.8 C614.5,1911.8 612.5,1905.8 615.0,1902.4 Z" fill="#232323"/>
</svg>
</body></html>
